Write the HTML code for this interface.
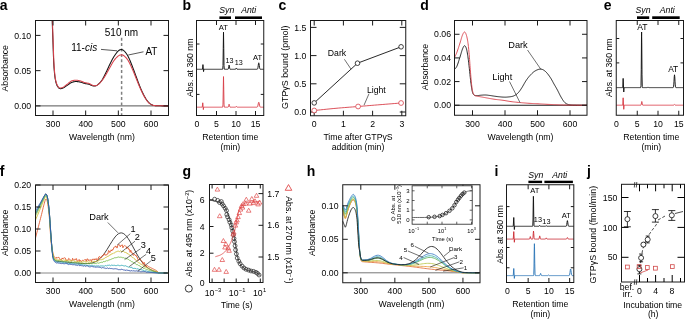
<!DOCTYPE html>
<html><head><meta charset="utf-8"><style>
html,body{margin:0;padding:0;background:#fff;}
svg{display:block;filter:blur(0.3px);}
text{font-family:"Liberation Sans",sans-serif;}
</style></head><body>
<svg width="685" height="320" viewBox="0 0 685 320">
<rect width="685" height="320" fill="#fff"/>
<text x="-0.30" y="10.20" font-size="14" text-anchor="start" font-weight="bold">a</text>
<line x1="35.50" y1="105.90" x2="168.50" y2="105.90" stroke="#555" stroke-width="1"/>
<line x1="121.61" y1="37.70" x2="121.61" y2="115.50" stroke="#808080" stroke-width="1.5" stroke-dasharray="3,2.4"/>
<polyline points="52.20,20.50 52.25,21.99 52.32,23.95 52.41,26.27 52.50,28.88 52.60,31.65 52.70,34.49 52.80,37.31 52.90,40.00 52.99,42.69 53.09,45.51 53.18,48.42 53.27,51.34 53.37,54.23 53.48,57.00 53.58,59.62 53.70,62.00 53.82,64.18 53.94,66.21 54.07,68.12 54.21,69.91 54.35,71.58 54.49,73.14 54.64,74.62 54.80,76.00 54.97,77.28 55.14,78.43 55.32,79.46 55.51,80.41 55.71,81.27 55.90,82.06 56.10,82.80 56.30,83.50 56.50,84.14 56.70,84.70 56.91,85.19 57.12,85.62 57.33,86.00 57.55,86.35 57.77,86.68 58.00,87.00 58.23,87.31 58.46,87.59 58.68,87.84 58.92,88.06 59.16,88.24 59.42,88.40 59.70,88.52 60.00,88.60 60.32,88.64 60.66,88.65 61.01,88.62 61.38,88.56 61.76,88.46 62.16,88.34 62.57,88.18 63.00,88.00 63.45,87.78 63.93,87.51 64.43,87.21 64.94,86.88 65.46,86.54 65.98,86.18 66.49,85.84 67.00,85.50 67.50,85.16 68.00,84.80 68.50,84.44 69.00,84.07 69.50,83.71 70.00,83.37 70.50,83.07 71.00,82.80 71.49,82.57 71.98,82.36 72.46,82.17 72.94,82.01 73.43,81.87 73.93,81.75 74.45,81.66 75.00,81.60 75.58,81.57 76.18,81.56 76.80,81.58 77.44,81.63 78.08,81.70 78.73,81.79 79.37,81.89 80.00,82.00 80.63,82.14 81.27,82.31 81.92,82.51 82.56,82.72 83.20,82.94 83.82,83.15 84.42,83.34 85.00,83.50 85.55,83.63 86.09,83.74 86.62,83.83 87.12,83.91 87.62,83.99 88.09,84.08 88.55,84.18 89.00,84.30 89.42,84.44 89.82,84.61 90.20,84.79 90.56,84.97 90.92,85.16 91.27,85.33 91.63,85.48 92.00,85.60 92.38,85.71 92.75,85.81 93.12,85.90 93.50,85.97 93.88,86.03 94.25,86.05 94.62,86.05 95.00,86.00 95.37,85.92 95.73,85.83 96.08,85.71 96.44,85.56 96.80,85.37 97.18,85.13 97.58,84.84 98.00,84.50 98.45,84.10 98.93,83.66 99.43,83.16 99.94,82.62 100.46,82.04 100.98,81.41 101.49,80.73 102.00,80.00 102.50,79.21 103.00,78.36 103.50,77.45 104.00,76.50 104.50,75.52 105.00,74.52 105.50,73.51 106.00,72.50 106.50,71.48 107.00,70.42 107.50,69.34 108.00,68.25 108.50,67.16 109.00,66.08 109.50,65.02 110.00,64.00 110.50,63.00 111.00,62.00 111.50,61.02 112.00,60.05 112.50,59.11 113.00,58.20 113.50,57.33 114.00,56.50 114.51,55.71 115.02,54.93 115.54,54.19 116.06,53.48 116.57,52.82 117.07,52.21 117.55,51.67 118.00,51.20 118.42,50.80 118.82,50.47 119.20,50.21 119.56,49.99 119.92,49.83 120.27,49.72 120.63,49.64 121.00,49.60 121.37,49.59 121.73,49.60 122.08,49.66 122.44,49.76 122.80,49.92 123.18,50.14 123.58,50.43 124.00,50.80 124.45,51.25 124.93,51.76 125.43,52.35 125.94,52.99 126.46,53.70 126.98,54.48 127.49,55.31 128.00,56.20 128.50,57.17 129.00,58.22 129.50,59.34 130.00,60.52 130.50,61.74 131.00,62.99 131.50,64.24 132.00,65.50 132.50,66.77 133.00,68.08 133.50,69.41 134.00,70.77 134.50,72.13 135.00,73.50 135.50,74.86 136.00,76.20 136.50,77.54 137.00,78.90 137.50,80.27 138.00,81.63 138.50,82.97 139.00,84.29 139.50,85.57 140.00,86.80 140.50,88.00 141.00,89.17 141.50,90.31 142.00,91.42 142.50,92.50 143.00,93.55 143.50,94.55 144.00,95.50 144.50,96.42 145.00,97.30 145.50,98.14 146.00,98.95 146.50,99.71 147.00,100.43 147.50,101.09 148.00,101.70 148.50,102.25 149.00,102.74 149.50,103.19 150.00,103.58 150.50,103.93 151.00,104.25 151.50,104.54 152.00,104.80 152.45,105.02 152.81,105.20 153.15,105.33 153.50,105.43 153.91,105.51 154.44,105.58 155.12,105.64 156.00,105.70 157.20,105.76 158.72,105.80 160.44,105.84 162.25,105.86 164.03,105.87 165.66,105.88 167.02,105.89 168.00,105.90" fill="none" stroke="#111" stroke-width="1.05" stroke-linejoin="round"/>
<polyline points="52.40,20.50 52.45,21.99 52.52,23.95 52.61,26.27 52.70,28.88 52.80,31.65 52.90,34.49 53.00,37.31 53.10,40.00 53.19,42.69 53.29,45.51 53.38,48.42 53.48,51.34 53.57,54.23 53.68,57.00 53.78,59.62 53.90,62.00 54.02,64.18 54.14,66.22 54.27,68.13 54.41,69.92 54.55,71.60 54.69,73.17 54.84,74.63 55.00,76.00 55.17,77.25 55.34,78.37 55.52,79.37 55.71,80.26 55.91,81.08 56.10,81.83 56.30,82.53 56.50,83.20 56.70,83.82 56.91,84.36 57.12,84.84 57.33,85.26 57.55,85.64 57.76,85.98 57.98,86.30 58.20,86.60 58.41,86.89 58.61,87.14 58.81,87.37 59.02,87.56 59.23,87.72 59.46,87.85 59.72,87.94 60.00,88.00 60.31,88.02 60.64,88.00 60.99,87.95 61.36,87.86 61.75,87.74 62.15,87.59 62.57,87.41 63.00,87.20 63.45,86.95 63.93,86.65 64.43,86.31 64.94,85.94 65.46,85.56 65.98,85.17 66.49,84.78 67.00,84.40 67.50,84.01 68.00,83.60 68.50,83.17 69.00,82.74 69.50,82.33 70.00,81.94 70.50,81.59 71.00,81.30 71.49,81.06 71.98,80.84 72.46,80.67 72.94,80.52 73.43,80.40 73.93,80.31 74.45,80.24 75.00,80.20 75.58,80.19 76.18,80.20 76.80,80.25 77.44,80.32 78.08,80.41 78.73,80.53 79.37,80.66 80.00,80.80 80.63,80.97 81.27,81.19 81.92,81.43 82.56,81.68 83.20,81.94 83.82,82.19 84.42,82.41 85.00,82.60 85.55,82.75 86.09,82.87 86.62,82.98 87.12,83.07 87.62,83.16 88.09,83.25 88.55,83.36 89.00,83.50 89.42,83.66 89.82,83.85 90.20,84.05 90.56,84.26 90.92,84.47 91.27,84.67 91.63,84.85 92.00,85.00 92.38,85.14 92.75,85.27 93.12,85.40 93.50,85.51 93.88,85.60 94.25,85.67 94.62,85.70 95.00,85.70 95.37,85.67 95.73,85.62 96.08,85.55 96.44,85.45 96.80,85.31 97.18,85.13 97.58,84.89 98.00,84.60 98.45,84.24 98.93,83.83 99.43,83.37 99.94,82.86 100.46,82.31 100.98,81.73 101.49,81.12 102.00,80.50 102.50,79.85 103.00,79.16 103.50,78.44 104.00,77.69 104.50,76.92 105.00,76.13 105.50,75.32 106.00,74.50 106.50,73.65 107.00,72.77 107.50,71.87 108.00,70.95 108.50,70.02 109.00,69.10 109.50,68.19 110.00,67.30 110.50,66.41 111.00,65.51 111.50,64.61 112.00,63.72 112.50,62.85 113.00,62.01 113.50,61.23 114.00,60.50 114.51,59.82 115.02,59.18 115.54,58.57 116.06,58.01 116.57,57.48 117.07,57.01 117.55,56.58 118.00,56.20 118.42,55.88 118.82,55.61 119.20,55.40 119.56,55.23 119.92,55.09 120.27,55.00 120.63,54.94 121.00,54.90 121.37,54.88 121.73,54.89 122.08,54.92 122.44,54.99 122.80,55.10 123.18,55.27 123.58,55.50 124.00,55.80 124.45,56.17 124.93,56.59 125.43,57.07 125.94,57.61 126.46,58.20 126.98,58.84 127.49,59.55 128.00,60.30 128.50,61.12 129.00,62.01 129.50,62.97 130.00,63.97 130.50,65.02 131.00,66.10 131.50,67.19 132.00,68.30 132.50,69.43 133.00,70.60 133.50,71.81 134.00,73.04 134.50,74.28 135.00,75.53 135.50,76.77 136.00,78.00 136.50,79.23 137.00,80.48 137.50,81.74 138.00,82.99 138.50,84.24 139.00,85.46 139.50,86.65 140.00,87.80 140.50,88.92 141.00,90.01 141.50,91.09 142.00,92.14 142.50,93.16 143.00,94.14 143.50,95.09 144.00,96.00 144.50,96.88 145.00,97.73 145.50,98.55 146.00,99.33 146.50,100.07 147.00,100.77 147.50,101.41 148.00,102.00 148.50,102.53 149.00,102.99 149.50,103.41 150.00,103.77 150.50,104.10 151.00,104.40 151.50,104.66 152.00,104.90 152.45,105.10 152.81,105.26 153.15,105.38 153.50,105.47 153.91,105.54 154.44,105.59 155.12,105.64 156.00,105.70 157.20,105.76 158.72,105.80 160.44,105.83 162.25,105.85 164.03,105.87 165.66,105.88 167.02,105.89 168.00,105.90" fill="none" stroke="#d8404a" stroke-width="1.05" stroke-linejoin="round"/>
<rect x="35.50" y="20.50" width="133.00" height="95.00" stroke="#1a1a1a" stroke-width="1" fill="none"/>
<line x1="53.00" y1="115.50" x2="53.00" y2="110.50" stroke="#1a1a1a" stroke-width="1"/>
<line x1="53.00" y1="20.50" x2="53.00" y2="25.50" stroke="#1a1a1a" stroke-width="1"/>
<line x1="85.67" y1="115.50" x2="85.67" y2="110.50" stroke="#1a1a1a" stroke-width="1"/>
<line x1="85.67" y1="20.50" x2="85.67" y2="25.50" stroke="#1a1a1a" stroke-width="1"/>
<line x1="118.34" y1="115.50" x2="118.34" y2="110.50" stroke="#1a1a1a" stroke-width="1"/>
<line x1="118.34" y1="20.50" x2="118.34" y2="25.50" stroke="#1a1a1a" stroke-width="1"/>
<line x1="151.01" y1="115.50" x2="151.01" y2="110.50" stroke="#1a1a1a" stroke-width="1"/>
<line x1="151.01" y1="20.50" x2="151.01" y2="25.50" stroke="#1a1a1a" stroke-width="1"/>
<line x1="35.50" y1="105.90" x2="40.50" y2="105.90" stroke="#1a1a1a" stroke-width="1"/>
<line x1="168.50" y1="105.90" x2="163.50" y2="105.90" stroke="#1a1a1a" stroke-width="1"/>
<line x1="35.50" y1="70.65" x2="40.50" y2="70.65" stroke="#1a1a1a" stroke-width="1"/>
<line x1="168.50" y1="70.65" x2="163.50" y2="70.65" stroke="#1a1a1a" stroke-width="1"/>
<line x1="35.50" y1="35.40" x2="40.50" y2="35.40" stroke="#1a1a1a" stroke-width="1"/>
<line x1="168.50" y1="35.40" x2="163.50" y2="35.40" stroke="#1a1a1a" stroke-width="1"/>
<text x="53.00" y="126.50" font-size="8.7" text-anchor="middle">300</text>
<text x="85.67" y="126.50" font-size="8.7" text-anchor="middle">400</text>
<text x="118.34" y="126.50" font-size="8.7" text-anchor="middle">500</text>
<text x="151.01" y="126.50" font-size="8.7" text-anchor="middle">600</text>
<text x="31.20" y="109.00" font-size="8.7" text-anchor="end">0.00</text>
<text x="31.20" y="73.75" font-size="8.7" text-anchor="end">0.05</text>
<text x="31.20" y="38.50" font-size="8.7" text-anchor="end">0.10</text>
<text x="102.00" y="140.00" font-size="8.7" text-anchor="middle">Wavelength (nm)</text>
<text x="7.80" y="68.30" font-size="8.7" text-anchor="middle" transform="rotate(-90 7.80 68.30)">Absorbance</text>
<text x="121.50" y="36.00" font-size="10" text-anchor="middle">510 nm</text>
<text x="84.20" y="50.90" font-size="10" text-anchor="middle">11-<tspan font-style="italic">cis</tspan></text>
<text x="151.40" y="54.50" font-size="10" text-anchor="middle">AT</text>
<line x1="101.00" y1="49.40" x2="117.00" y2="50.80" stroke="#111" stroke-width="0.7"/>
<line x1="143.50" y1="51.80" x2="128.30" y2="55.00" stroke="#111" stroke-width="0.7"/>
<text x="182.60" y="10.20" font-size="14" text-anchor="start" font-weight="bold">b</text>
<rect x="219.40" y="16.40" width="11.60" height="2.60" fill="#000"/>
<rect x="235.00" y="16.40" width="27.00" height="2.60" fill="#000"/>
<text x="226.80" y="12.50" font-size="8.7" text-anchor="middle" font-style="italic">Syn</text>
<text x="248.70" y="12.50" font-size="8.7" text-anchor="middle" font-style="italic">Anti</text>
<polyline points="196.50,69.30 196.75,69.30 197.00,69.30 197.25,69.30 197.50,69.30 197.75,69.30 198.00,69.30 198.25,69.30 198.50,69.30 198.75,69.30 199.00,69.30 199.25,69.30 199.50,69.30 199.75,69.30 200.00,69.30 200.25,69.30 200.50,69.30 200.75,69.30 201.00,69.30 201.25,69.30 201.50,69.30 201.75,69.30 202.00,69.30 202.25,69.30 202.50,69.30 202.95,64.60 203.55,71.60 203.90,69.30 204.00,69.30 204.25,69.30 204.50,69.30 204.75,69.30 205.00,69.30 205.25,69.30 205.50,69.30 205.75,69.30 206.00,69.30 206.25,69.30 206.50,69.30 206.75,69.30 207.00,69.30 207.25,69.30 207.50,69.30 207.75,69.30 208.00,69.30 208.25,69.30 208.50,69.30 208.75,69.30 209.00,69.30 209.25,69.30 209.50,69.30 209.75,69.30 210.00,69.30 210.25,69.30 210.50,69.30 210.75,69.30 211.00,69.30 211.25,69.30 211.50,69.30 211.75,69.30 212.00,69.30 212.25,69.30 212.50,69.30 212.75,69.30 213.00,69.30 213.25,69.30 213.50,69.30 213.75,69.30 214.00,69.30 214.25,69.30 214.50,69.30 214.75,69.30 215.00,69.30 215.25,69.30 215.50,69.30 215.75,69.30 216.00,69.30 216.25,69.30 216.50,69.30 216.75,69.30 217.00,69.30 217.25,69.30 217.50,69.30 217.75,69.30 218.00,69.30 218.25,69.30 218.50,69.30 218.75,69.30 219.00,69.30 219.25,69.30 219.50,69.30 219.75,69.30 220.00,69.30 220.25,69.30 220.50,69.30 220.75,69.30 221.00,69.30 221.25,69.30 221.50,69.30 221.75,69.30 222.00,69.30 222.25,69.30 222.50,69.30 222.75,69.09 223.00,65.56 223.25,48.40 223.50,32.20 223.75,48.40 224.00,65.56 224.25,69.09 224.50,69.30 224.75,69.30 225.00,69.30 225.25,69.30 225.50,69.30 225.75,69.30 226.00,69.30 226.25,69.30 226.50,69.30 226.75,69.30 227.00,69.30 227.25,69.30 227.50,69.30 227.75,69.30 228.00,69.27 228.25,69.06 228.50,68.28 228.75,66.67 229.00,65.17 229.10,65.00 229.25,65.37 229.50,67.03 229.75,68.51 230.00,69.13 230.25,69.28 230.50,69.30 230.75,69.30 231.00,69.30 231.25,69.30 231.50,69.30 231.75,69.30 232.00,69.30 232.25,69.30 232.50,69.30 232.75,69.30 233.00,69.30 233.25,69.30 233.50,69.30 233.75,69.30 234.00,69.30 234.25,69.30 234.50,69.30 234.75,69.30 235.00,69.30 235.25,69.29 235.50,69.24 235.75,69.01 236.00,68.47 236.25,68.02 236.30,68.00 236.50,68.23 236.75,68.82 237.00,69.18 237.25,69.28 237.50,69.30 237.75,69.30 238.00,69.30 238.25,69.30 238.50,69.30 238.75,69.30 239.00,69.30 239.25,69.30 239.50,69.30 239.75,69.30 240.00,69.30 240.25,69.30 240.50,69.30 240.75,69.30 241.00,69.30 241.25,69.30 241.50,69.30 241.75,69.30 242.00,69.30 242.25,69.30 242.50,69.30 242.75,69.30 243.00,69.30 243.25,69.30 243.50,69.30 243.75,69.30 244.00,69.30 244.25,69.30 244.50,69.30 244.75,69.30 245.00,69.30 245.25,69.30 245.50,69.30 245.75,69.30 246.00,69.30 246.25,69.30 246.50,69.30 246.75,69.30 247.00,69.30 247.25,69.30 247.50,69.30 247.75,69.30 248.00,69.30 248.25,69.30 248.50,69.30 248.75,69.30 249.00,69.30 249.25,69.30 249.50,69.30 249.75,69.30 250.00,69.30 250.25,69.30 250.50,69.30 250.75,69.30 251.00,69.30 251.25,69.30 251.50,69.30 251.75,69.30 252.00,69.30 252.25,69.30 252.50,69.30 252.75,69.30 253.00,69.30 253.25,69.30 253.50,69.30 253.75,69.30 254.00,69.30 254.25,69.30 254.50,69.30 254.75,69.30 255.00,69.30 255.25,69.30 255.50,69.30 255.75,69.30 256.00,69.30 256.25,69.30 256.50,69.30 256.75,69.30 257.00,69.29 257.25,69.23 257.50,69.03 257.75,68.46 258.00,67.24 258.25,65.40 258.50,63.58 258.75,62.80 259.00,63.58 259.25,65.40 259.50,67.24 259.75,68.46 260.00,69.03 260.25,69.23 260.50,69.29 260.75,69.30 261.00,69.30 261.25,69.30 261.50,69.30 261.75,69.30 262.00,69.30 262.25,69.30 262.50,69.30 262.75,69.30 263.00,69.30 263.25,69.30 263.50,69.30 263.75,69.30" fill="none" stroke="#111" stroke-width="0.95" stroke-linejoin="round"/>
<polyline points="196.50,107.20 196.75,107.20 197.00,107.20 197.25,107.20 197.50,107.20 197.75,107.20 198.00,107.20 198.25,107.20 198.50,107.20 198.75,107.20 199.00,107.20 199.25,107.20 199.50,107.20 199.75,107.20 200.00,107.20 200.25,107.20 200.50,107.20 200.75,107.20 201.00,107.20 201.25,107.20 201.50,107.20 201.75,107.20 202.00,107.20 202.25,107.20 202.75,102.80 203.35,109.60 203.70,107.20 203.75,107.20 204.00,107.20 204.25,107.20 204.50,107.20 204.75,107.20 205.00,107.20 205.25,107.20 205.50,107.20 205.75,107.20 206.00,107.20 206.25,107.20 206.50,107.20 206.75,107.20 207.00,107.20 207.25,107.20 207.50,107.20 207.75,107.20 208.00,107.20 208.25,107.20 208.50,107.20 208.75,107.20 209.00,107.20 209.25,107.20 209.50,107.20 209.75,107.20 210.00,107.20 210.25,107.20 210.50,107.20 210.75,107.20 211.00,107.20 211.25,107.20 211.50,107.20 211.75,107.20 212.00,107.20 212.25,107.20 212.50,107.20 212.75,107.20 213.00,107.20 213.25,107.20 213.50,107.20 213.75,107.20 214.00,107.20 214.25,107.20 214.50,107.20 214.75,107.20 215.00,107.20 215.25,107.20 215.50,107.20 215.75,107.20 216.00,107.20 216.25,107.20 216.50,107.20 216.75,107.20 217.00,107.20 217.25,107.20 217.50,107.20 217.75,107.20 218.00,107.20 218.25,107.20 218.50,107.20 218.75,107.20 219.00,107.20 219.25,107.20 219.50,107.20 219.75,107.20 220.00,107.20 220.25,107.20 220.50,107.20 220.75,107.20 221.00,107.20 221.25,107.20 221.50,107.20 221.75,107.20 222.00,107.20 222.25,107.20 222.50,107.20 222.75,107.03 223.00,104.12 223.25,89.96 223.50,76.60 223.75,89.96 224.00,104.12 224.25,107.03 224.50,107.20 224.75,107.20 225.00,107.20 225.25,107.20 225.50,107.20 225.75,107.20 226.00,107.20 226.25,107.20 226.50,107.20 226.75,107.20 227.00,107.20 227.25,107.20 227.50,107.20 227.75,107.20 228.00,107.18 228.25,107.03 228.50,106.49 228.75,105.36 229.00,104.32 229.10,104.20 229.25,104.46 229.50,105.62 229.75,106.65 230.00,107.08 230.25,107.18 230.50,107.20 230.75,107.20 231.00,107.20 231.25,107.20 231.50,107.20 231.75,107.20 232.00,107.20 232.25,107.20 232.50,107.20 232.75,107.20 233.00,107.20 233.25,107.20 233.50,107.20 233.75,107.20 234.00,107.20 234.25,107.20 234.50,107.20 234.75,107.20 235.00,107.20 235.25,107.20 235.50,107.17 235.75,107.02 236.00,106.69 236.25,106.41 236.30,106.40 236.50,106.54 236.75,106.91 237.00,107.13 237.25,107.19 237.50,107.20 237.75,107.20 238.00,107.20 238.25,107.20 238.50,107.20 238.75,107.20 239.00,107.20 239.25,107.20 239.50,107.20 239.75,107.20 240.00,107.20 240.25,107.20 240.50,107.20 240.75,107.20 241.00,107.20 241.25,107.20 241.50,107.20 241.75,107.20 242.00,107.20 242.25,107.20 242.50,107.20 242.75,107.20 243.00,107.20 243.25,107.20 243.50,107.20 243.75,107.20 244.00,107.20 244.25,107.20 244.50,107.20 244.75,107.20 245.00,107.20 245.25,107.20 245.50,107.20 245.75,107.20 246.00,107.20 246.25,107.20 246.50,107.20 246.75,107.20 247.00,107.20 247.25,107.20 247.50,107.20 247.75,107.20 248.00,107.20 248.25,107.20 248.50,107.20 248.75,107.20 249.00,107.20 249.25,107.20 249.50,107.20 249.75,107.20 250.00,107.20 250.25,107.20 250.50,107.20 250.75,107.20 251.00,107.20 251.25,107.20 251.50,107.20 251.75,107.20 252.00,107.20 252.25,107.20 252.50,107.20 252.75,107.20 253.00,107.20 253.25,107.20 253.50,107.20 253.75,107.20 254.00,107.20 254.25,107.20 254.50,107.20 254.75,107.20 255.00,107.20 255.25,107.20 255.50,107.20 255.75,107.20 256.00,107.20 256.25,107.20 256.50,107.20 256.75,107.19 257.00,107.16 257.25,107.05 257.50,106.76 257.75,106.15 258.00,105.12 258.25,103.82 258.50,102.67 258.75,102.20 259.00,102.67 259.25,103.82 259.50,105.12 259.75,106.15 260.00,106.76 260.25,107.05 260.50,107.16 260.75,107.19 261.00,107.20 261.25,107.20 261.50,107.20 261.75,107.20 262.00,107.20 262.25,107.20 262.50,107.20 262.75,107.20 263.00,107.20 263.25,107.20 263.50,107.20 263.75,107.20" fill="none" stroke="#d8404a" stroke-width="0.95" stroke-linejoin="round"/>
<rect x="196.50" y="20.50" width="67.25" height="95.00" stroke="#1a1a1a" stroke-width="1" fill="none"/>
<line x1="216.50" y1="115.50" x2="216.50" y2="111.00" stroke="#1a1a1a" stroke-width="1"/>
<line x1="216.50" y1="20.50" x2="216.50" y2="25.00" stroke="#1a1a1a" stroke-width="1"/>
<line x1="236.00" y1="115.50" x2="236.00" y2="111.00" stroke="#1a1a1a" stroke-width="1"/>
<line x1="236.00" y1="20.50" x2="236.00" y2="25.00" stroke="#1a1a1a" stroke-width="1"/>
<line x1="255.50" y1="115.50" x2="255.50" y2="111.00" stroke="#1a1a1a" stroke-width="1"/>
<line x1="255.50" y1="20.50" x2="255.50" y2="25.00" stroke="#1a1a1a" stroke-width="1"/>
<line x1="196.50" y1="44.00" x2="199.50" y2="44.00" stroke="#1a1a1a" stroke-width="1"/>
<line x1="263.75" y1="44.00" x2="260.75" y2="44.00" stroke="#1a1a1a" stroke-width="1"/>
<line x1="196.50" y1="94.40" x2="199.50" y2="94.40" stroke="#1a1a1a" stroke-width="1"/>
<line x1="263.75" y1="94.40" x2="260.75" y2="94.40" stroke="#1a1a1a" stroke-width="1"/>
<text x="223.30" y="29.80" font-size="7.6" text-anchor="middle">AT</text>
<text x="229.40" y="63.40" font-size="7.2" text-anchor="middle">13</text>
<text x="238.80" y="64.90" font-size="7.2" text-anchor="middle">13</text>
<text x="257.60" y="60.00" font-size="7.6" text-anchor="middle">AT</text>
<text x="197.00" y="126.50" font-size="8.7" text-anchor="middle">0</text>
<text x="216.50" y="126.50" font-size="8.7" text-anchor="middle">5</text>
<text x="236.00" y="126.50" font-size="8.7" text-anchor="middle">10</text>
<text x="255.50" y="126.50" font-size="8.7" text-anchor="middle">15</text>
<text x="230.30" y="140.00" font-size="8.7" text-anchor="middle">Retention time</text>
<text x="230.30" y="149.50" font-size="8.7" text-anchor="middle">(min)</text>
<text x="192.70" y="67.80" font-size="8.7" text-anchor="middle" transform="rotate(-90 192.70 67.80)">Abs. at 360 nm</text>
<text x="278.60" y="10.20" font-size="14" text-anchor="start" font-weight="bold">c</text>
<rect x="310.50" y="20.50" width="95.25" height="95.25" stroke="#1a1a1a" stroke-width="1" fill="none"/>
<line x1="314.20" y1="115.75" x2="314.20" y2="110.75" stroke="#1a1a1a" stroke-width="1"/>
<line x1="314.20" y1="20.50" x2="314.20" y2="25.50" stroke="#1a1a1a" stroke-width="1"/>
<line x1="343.40" y1="115.75" x2="343.40" y2="110.75" stroke="#1a1a1a" stroke-width="1"/>
<line x1="343.40" y1="20.50" x2="343.40" y2="25.50" stroke="#1a1a1a" stroke-width="1"/>
<line x1="372.60" y1="115.75" x2="372.60" y2="110.75" stroke="#1a1a1a" stroke-width="1"/>
<line x1="372.60" y1="20.50" x2="372.60" y2="25.50" stroke="#1a1a1a" stroke-width="1"/>
<line x1="401.80" y1="115.75" x2="401.80" y2="110.75" stroke="#1a1a1a" stroke-width="1"/>
<line x1="401.80" y1="20.50" x2="401.80" y2="25.50" stroke="#1a1a1a" stroke-width="1"/>
<line x1="310.50" y1="112.00" x2="316.50" y2="112.00" stroke="#1a1a1a" stroke-width="1"/>
<line x1="405.75" y1="112.00" x2="399.75" y2="112.00" stroke="#1a1a1a" stroke-width="1"/>
<line x1="310.50" y1="83.80" x2="316.50" y2="83.80" stroke="#1a1a1a" stroke-width="1"/>
<line x1="405.75" y1="83.80" x2="399.75" y2="83.80" stroke="#1a1a1a" stroke-width="1"/>
<line x1="310.50" y1="55.60" x2="316.50" y2="55.60" stroke="#1a1a1a" stroke-width="1"/>
<line x1="405.75" y1="55.60" x2="399.75" y2="55.60" stroke="#1a1a1a" stroke-width="1"/>
<line x1="310.50" y1="27.40" x2="316.50" y2="27.40" stroke="#1a1a1a" stroke-width="1"/>
<line x1="405.75" y1="27.40" x2="399.75" y2="27.40" stroke="#1a1a1a" stroke-width="1"/>
<polyline points="314.20,102.90 357.50,63.20 401.10,46.80" fill="none" stroke="#111" stroke-width="0.9" stroke-linejoin="round"/>
<polyline points="314.20,110.50 315.88,110.33 318.11,110.10 320.77,109.82 323.72,109.51 326.85,109.19 330.02,108.87 333.11,108.57 336.00,108.30 338.75,108.06 341.51,107.82 344.27,107.60 347.04,107.37 349.81,107.16 352.58,106.94 355.35,106.72 358.10,106.50 360.85,106.27 363.61,106.05 366.36,105.82 369.11,105.59 371.85,105.37 374.59,105.14 377.30,104.92 380.00,104.70 382.82,104.47 385.83,104.23 388.90,103.98 391.92,103.74 394.77,103.51 397.33,103.30 399.48,103.13 401.10,103.00" fill="none" stroke="#d8404a" stroke-width="0.9" stroke-linejoin="round"/>
<circle cx="314.20" cy="102.90" r="2.3" stroke="#111" stroke-width="0.8" fill="#fff"/>
<circle cx="357.50" cy="63.20" r="2.3" stroke="#111" stroke-width="0.8" fill="#fff"/>
<circle cx="401.10" cy="46.80" r="2.3" stroke="#111" stroke-width="0.8" fill="#fff"/>
<circle cx="314.20" cy="110.50" r="2.4" stroke="#d8404a" stroke-width="0.8" fill="#fff"/>
<circle cx="358.10" cy="106.50" r="2.4" stroke="#d8404a" stroke-width="0.8" fill="#fff"/>
<circle cx="401.10" cy="103.00" r="2.4" stroke="#d8404a" stroke-width="0.8" fill="#fff"/>
<text x="337.00" y="56.00" font-size="8.7" text-anchor="middle">Dark</text>
<line x1="344.40" y1="59.30" x2="351.00" y2="69.10" stroke="#111" stroke-width="0.6"/>
<text x="376.30" y="92.50" font-size="8.7" text-anchor="middle">Light</text>
<line x1="369.00" y1="93.70" x2="364.00" y2="105.20" stroke="#111" stroke-width="0.6"/>
<text x="314.20" y="126.50" font-size="8.7" text-anchor="middle">0</text>
<text x="343.40" y="126.50" font-size="8.7" text-anchor="middle">1</text>
<text x="372.60" y="126.50" font-size="8.7" text-anchor="middle">2</text>
<text x="401.80" y="126.50" font-size="8.7" text-anchor="middle">3</text>
<text x="306.30" y="115.10" font-size="8.7" text-anchor="end">0.0</text>
<text x="306.30" y="86.90" font-size="8.7" text-anchor="end">0.5</text>
<text x="306.30" y="58.70" font-size="8.7" text-anchor="end">1.0</text>
<text x="306.30" y="30.50" font-size="8.7" text-anchor="end">1.5</text>
<text x="358.00" y="139.80" font-size="8.7" text-anchor="middle">Time after GTP<tspan>γ</tspan>S</text>
<text x="358.00" y="150.00" font-size="8.7" text-anchor="middle">addition (min)</text>
<text x="287.60" y="67.20" font-size="8.9" text-anchor="middle" transform="rotate(-90 287.60 67.20)">GTP<tspan>γ</tspan>S bound (pmol)</text>
<text x="420.20" y="10.20" font-size="14" text-anchor="start" font-weight="bold">d</text>
<line x1="454.50" y1="105.25" x2="587.00" y2="105.25" stroke="#222" stroke-width="1"/>
<polyline points="454.50,69.50 454.69,69.27 454.94,69.00 455.23,68.69 455.56,68.31 455.92,67.87 456.28,67.34 456.65,66.72 457.00,66.00 457.35,65.13 457.73,64.11 458.11,62.98 458.50,61.78 458.89,60.54 459.27,59.31 459.65,58.11 460.00,57.00 460.34,55.92 460.67,54.82 460.99,53.72 461.31,52.64 461.61,51.61 461.91,50.65 462.21,49.77 462.50,49.00 462.78,48.32 463.06,47.69 463.33,47.13 463.59,46.64 463.84,46.25 464.10,45.95 464.35,45.76 464.60,45.70 464.85,45.76 465.10,45.93 465.34,46.20 465.58,46.58 465.82,47.05 466.05,47.62 466.28,48.27 466.50,49.00 466.72,49.83 466.93,50.78 467.13,51.83 467.33,52.96 467.53,54.15 467.72,55.41 467.91,56.69 468.10,58.00 468.29,59.36 468.47,60.79 468.64,62.28 468.82,63.81 468.99,65.37 469.16,66.93 469.33,68.48 469.50,70.00 469.67,71.52 469.83,73.06 469.99,74.61 470.14,76.16 470.30,77.68 470.46,79.18 470.63,80.62 470.80,82.00 470.98,83.35 471.16,84.69 471.34,86.01 471.52,87.28 471.71,88.49 471.91,89.61 472.10,90.62 472.30,91.50 472.49,92.24 472.68,92.86 472.87,93.38 473.06,93.81 473.26,94.16 473.48,94.47 473.72,94.74 474.00,95.00 474.31,95.22 474.64,95.38 474.99,95.48 475.36,95.54 475.74,95.58 476.15,95.59 476.57,95.59 477.00,95.60 477.45,95.60 477.92,95.57 478.40,95.51 478.91,95.45 479.42,95.38 479.94,95.31 480.47,95.25 481.00,95.20 481.54,95.16 482.09,95.12 482.65,95.08 483.22,95.04 483.79,95.01 484.36,95.00 484.93,94.99 485.50,95.00 486.05,95.03 486.59,95.07 487.12,95.12 487.66,95.18 488.20,95.25 488.77,95.33 489.37,95.41 490.00,95.50 490.67,95.59 491.37,95.70 492.10,95.82 492.84,95.94 493.61,96.06 494.39,96.18 495.19,96.29 496.00,96.40 496.84,96.50 497.73,96.61 498.64,96.71 499.56,96.81 500.48,96.90 501.37,96.99 502.21,97.05 503.00,97.10 503.72,97.13 504.38,97.15 505.00,97.16 505.59,97.16 506.18,97.14 506.76,97.11 507.36,97.06 508.00,97.00 508.67,96.93 509.36,96.86 510.07,96.78 510.78,96.68 511.49,96.56 512.18,96.41 512.86,96.23 513.50,96.00 514.11,95.74 514.71,95.45 515.28,95.13 515.84,94.78 516.39,94.40 516.93,93.97 517.47,93.51 518.00,93.00 518.53,92.44 519.04,91.82 519.55,91.16 520.04,90.47 520.54,89.75 521.03,89.00 521.51,88.25 522.00,87.50 522.48,86.73 522.95,85.92 523.42,85.09 523.89,84.25 524.35,83.41 524.83,82.58 525.31,81.77 525.80,81.00 526.30,80.26 526.80,79.53 527.31,78.82 527.82,78.12 528.35,77.45 528.88,76.78 529.43,76.13 530.00,75.50 530.58,74.87 531.18,74.24 531.79,73.62 532.41,73.02 533.04,72.45 533.68,71.92 534.34,71.43 535.00,71.00 535.69,70.61 536.40,70.24 537.13,69.91 537.86,69.62 538.60,69.38 539.32,69.21 540.03,69.11 540.70,69.10 541.34,69.17 541.96,69.31 542.57,69.53 543.16,69.81 543.74,70.15 544.32,70.55 544.91,71.00 545.50,71.50 546.11,72.07 546.73,72.74 547.35,73.46 547.97,74.24 548.58,75.06 549.18,75.88 549.75,76.70 550.30,77.50 550.82,78.29 551.31,79.11 551.79,79.93 552.24,80.76 552.69,81.59 553.13,82.41 553.56,83.22 554.00,84.00 554.43,84.75 554.84,85.47 555.25,86.16 555.65,86.86 556.05,87.55 556.46,88.27 556.87,89.01 557.30,89.80 557.75,90.65 558.21,91.55 558.68,92.49 559.15,93.45 559.62,94.40 560.09,95.32 560.55,96.20 561.00,97.00 561.44,97.75 561.87,98.48 562.29,99.17 562.71,99.83 563.12,100.44 563.53,101.01 563.92,101.53 564.30,102.00 564.66,102.40 565.01,102.74 565.34,103.02 565.67,103.26 565.99,103.46 566.32,103.65 566.65,103.82 567.00,104.00 567.35,104.17 567.68,104.32 568.02,104.44 568.36,104.56 568.72,104.65 569.10,104.74 569.53,104.82 570.00,104.90 570.48,104.97 570.95,105.02 571.42,105.07 571.94,105.10 572.52,105.13 573.21,105.16 574.03,105.18 575.00,105.20 576.25,105.22 577.79,105.23 579.51,105.24 581.31,105.24 583.07,105.25 584.68,105.25 586.03,105.25 587.00,105.25" fill="none" stroke="#111" stroke-width="0.9" stroke-linejoin="round"/>
<polyline points="454.50,57.80 454.69,57.37 454.94,56.83 455.23,56.19 455.56,55.46 455.92,54.66 456.28,53.81 456.65,52.92 457.00,52.00 457.35,51.02 457.73,49.95 458.11,48.82 458.50,47.64 458.89,46.44 459.27,45.25 459.65,44.10 460.00,43.00 460.34,41.92 460.67,40.81 460.99,39.71 461.31,38.62 461.61,37.59 461.91,36.62 462.21,35.75 462.50,35.00 462.78,34.34 463.06,33.75 463.33,33.22 463.59,32.78 463.84,32.43 464.10,32.18 464.35,32.03 464.60,32.00 464.85,32.09 465.10,32.31 465.34,32.63 465.58,33.04 465.82,33.55 466.05,34.14 466.28,34.79 466.50,35.50 466.72,36.28 466.93,37.15 467.14,38.09 467.34,39.11 467.54,40.19 467.74,41.34 467.92,42.54 468.10,43.80 468.27,45.12 468.43,46.51 468.58,47.97 468.73,49.48 468.87,51.05 469.02,52.66 469.16,54.31 469.30,56.00 469.44,57.75 469.58,59.59 469.72,61.49 469.85,63.42 469.98,65.36 470.12,67.29 470.26,69.18 470.40,71.00 470.55,72.80 470.69,74.62 470.84,76.44 470.99,78.22 471.15,79.94 471.30,81.58 471.45,83.11 471.60,84.50 471.75,85.75 471.89,86.90 472.03,87.94 472.17,88.89 472.31,89.76 472.46,90.56 472.63,91.30 472.80,92.00 472.98,92.63 473.15,93.17 473.32,93.65 473.51,94.06 473.71,94.42 473.94,94.74 474.20,95.03 474.50,95.30 474.82,95.53 475.15,95.70 475.50,95.83 475.89,95.92 476.32,96.00 476.80,96.08 477.36,96.17 478.00,96.30 478.74,96.46 479.57,96.62 480.48,96.79 481.44,96.97 482.44,97.15 483.46,97.33 484.49,97.52 485.50,97.70 486.51,97.89 487.54,98.08 488.59,98.27 489.66,98.47 490.73,98.66 491.82,98.85 492.91,99.03 494.00,99.20 495.11,99.36 496.24,99.50 497.38,99.63 498.53,99.76 499.68,99.89 500.81,100.02 501.92,100.16 503.00,100.30 504.04,100.45 505.04,100.62 506.01,100.79 506.97,100.96 507.93,101.13 508.92,101.29 509.94,101.45 511.00,101.60 512.12,101.74 513.29,101.88 514.50,102.01 515.72,102.14 516.94,102.26 518.16,102.38 519.35,102.49 520.50,102.60 521.61,102.70 522.68,102.80 523.74,102.89 524.78,102.98 525.82,103.07 526.86,103.15 527.92,103.22 529.00,103.30 530.10,103.37 531.21,103.44 532.34,103.50 533.47,103.56 534.60,103.62 535.74,103.68 536.87,103.74 538.00,103.80 539.13,103.86 540.26,103.93 541.39,103.99 542.52,104.06 543.65,104.12 544.78,104.18 545.89,104.24 547.00,104.30 548.09,104.36 549.16,104.41 550.22,104.46 551.28,104.51 552.33,104.56 553.40,104.61 554.49,104.66 555.60,104.70 556.65,104.74 557.60,104.78 558.51,104.82 559.46,104.86 560.52,104.90 561.75,104.93 563.22,104.97 565.00,105.00 567.30,105.04 570.13,105.07 573.29,105.11 576.59,105.14 579.81,105.18 582.75,105.21 585.22,105.23 587.00,105.25" fill="none" stroke="#d8404a" stroke-width="0.9" stroke-linejoin="round"/>
<rect x="454.50" y="20.50" width="132.50" height="94.75" stroke="#1a1a1a" stroke-width="1" fill="none"/>
<line x1="472.50" y1="115.25" x2="472.50" y2="110.25" stroke="#1a1a1a" stroke-width="1"/>
<line x1="472.50" y1="20.50" x2="472.50" y2="25.50" stroke="#1a1a1a" stroke-width="1"/>
<line x1="505.00" y1="115.25" x2="505.00" y2="110.25" stroke="#1a1a1a" stroke-width="1"/>
<line x1="505.00" y1="20.50" x2="505.00" y2="25.50" stroke="#1a1a1a" stroke-width="1"/>
<line x1="537.50" y1="115.25" x2="537.50" y2="110.25" stroke="#1a1a1a" stroke-width="1"/>
<line x1="537.50" y1="20.50" x2="537.50" y2="25.50" stroke="#1a1a1a" stroke-width="1"/>
<line x1="570.00" y1="115.25" x2="570.00" y2="110.25" stroke="#1a1a1a" stroke-width="1"/>
<line x1="570.00" y1="20.50" x2="570.00" y2="25.50" stroke="#1a1a1a" stroke-width="1"/>
<line x1="454.50" y1="105.25" x2="459.50" y2="105.25" stroke="#1a1a1a" stroke-width="1"/>
<line x1="587.00" y1="105.25" x2="582.00" y2="105.25" stroke="#1a1a1a" stroke-width="1"/>
<line x1="454.50" y1="81.59" x2="459.50" y2="81.59" stroke="#1a1a1a" stroke-width="1"/>
<line x1="587.00" y1="81.59" x2="582.00" y2="81.59" stroke="#1a1a1a" stroke-width="1"/>
<line x1="454.50" y1="57.93" x2="459.50" y2="57.93" stroke="#1a1a1a" stroke-width="1"/>
<line x1="587.00" y1="57.93" x2="582.00" y2="57.93" stroke="#1a1a1a" stroke-width="1"/>
<line x1="454.50" y1="34.27" x2="459.50" y2="34.27" stroke="#1a1a1a" stroke-width="1"/>
<line x1="587.00" y1="34.27" x2="582.00" y2="34.27" stroke="#1a1a1a" stroke-width="1"/>
<text x="472.50" y="126.50" font-size="8.7" text-anchor="middle">300</text>
<text x="505.00" y="126.50" font-size="8.7" text-anchor="middle">400</text>
<text x="537.50" y="126.50" font-size="8.7" text-anchor="middle">500</text>
<text x="570.00" y="126.50" font-size="8.7" text-anchor="middle">600</text>
<text x="451.00" y="108.35" font-size="8.7" text-anchor="end">0.00</text>
<text x="451.00" y="84.69" font-size="8.7" text-anchor="end">0.02</text>
<text x="451.00" y="61.03" font-size="8.7" text-anchor="end">0.04</text>
<text x="451.00" y="37.37" font-size="8.7" text-anchor="end">0.06</text>
<text x="520.50" y="140.00" font-size="8.7" text-anchor="middle">Wavelength (nm)</text>
<text x="428.00" y="67.00" font-size="8.7" text-anchor="middle" transform="rotate(-90 428.00 67.00)">Absorbance</text>
<text x="518.00" y="47.50" font-size="9.2" text-anchor="middle">Dark</text>
<line x1="527.50" y1="50.00" x2="541.00" y2="69.50" stroke="#111" stroke-width="0.6"/>
<text x="502.30" y="80.00" font-size="9.2" text-anchor="middle">Light</text>
<line x1="509.50" y1="81.50" x2="520.00" y2="102.60" stroke="#111" stroke-width="0.6"/>
<text x="603.80" y="10.20" font-size="14" text-anchor="start" font-weight="bold">e</text>
<rect x="637.00" y="16.30" width="12.20" height="2.70" fill="#000"/>
<rect x="652.20" y="16.30" width="27.50" height="2.70" fill="#000"/>
<text x="643.00" y="12.50" font-size="8.7" text-anchor="middle" font-style="italic">Syn</text>
<text x="667.30" y="12.50" font-size="8.7" text-anchor="middle" font-style="italic">Anti</text>
<polyline points="616.25,87.60 616.50,87.60 616.75,87.60 617.00,87.60 617.25,87.60 617.50,87.60 617.75,87.60 618.00,87.60 618.25,87.60 618.50,87.60 618.75,87.60 619.00,87.60 619.25,87.60 619.50,87.60 619.75,87.60 620.00,87.60 620.25,87.60 620.50,87.60 620.75,87.60 621.00,87.60 621.25,87.60 621.50,87.60 621.75,87.60 622.00,87.60 622.25,87.60 622.50,87.60 622.75,87.60 623.15,78.40 623.75,92.00 624.10,87.60 624.25,87.60 624.50,87.60 624.75,87.60 625.00,87.60 625.25,87.60 625.50,87.60 625.75,87.60 626.00,87.60 626.25,87.60 626.50,87.60 626.75,87.60 627.00,87.60 627.25,87.60 627.50,87.60 627.75,87.60 628.00,87.60 628.25,87.60 628.50,87.60 628.75,87.60 629.00,87.60 629.25,87.60 629.50,87.60 629.75,87.60 630.00,87.60 630.25,87.60 630.50,87.60 630.75,87.60 631.00,87.60 631.25,87.60 631.50,87.60 631.75,87.60 632.00,87.60 632.25,87.60 632.50,87.60 632.75,87.60 633.00,87.60 633.25,87.60 633.50,87.60 633.75,87.60 634.00,87.60 634.25,87.60 634.50,87.60 634.75,87.60 635.00,87.60 635.25,87.60 635.50,87.60 635.75,87.60 636.00,87.60 636.25,87.60 636.50,87.60 636.75,87.60 637.00,87.60 637.25,87.60 637.50,87.60 637.75,87.60 638.00,87.60 638.25,87.60 638.50,87.60 638.75,87.60 639.00,87.60 639.25,87.60 639.50,87.60 639.75,87.60 640.00,87.60 640.25,87.60 640.50,87.60 640.75,87.53 641.00,85.56 641.25,69.55 641.50,36.88 641.60,32.00 641.75,42.38 642.00,74.81 642.25,86.45 642.50,87.57 642.75,87.60 643.00,87.60 643.25,87.60 643.50,87.60 643.75,87.60 644.00,87.60 644.25,87.60 644.50,87.60 644.75,87.60 645.00,87.60 645.25,87.60 645.50,87.60 645.75,87.60 646.00,87.60 646.25,87.60 646.50,87.60 646.75,87.60 647.00,87.60 647.25,87.56 647.50,87.43 647.75,87.16 648.00,87.00 648.25,87.16 648.50,87.43 648.75,87.56 649.00,87.60 649.25,87.60 649.50,87.60 649.75,87.60 650.00,87.60 650.25,87.60 650.50,87.60 650.75,87.60 651.00,87.60 651.25,87.60 651.50,87.60 651.75,87.60 652.00,87.60 652.25,87.60 652.50,87.60 652.75,87.60 653.00,87.60 653.25,87.60 653.50,87.60 653.75,87.60 654.00,87.60 654.25,87.60 654.50,87.60 654.75,87.60 655.00,87.60 655.25,87.60 655.50,87.60 655.75,87.60 656.00,87.60 656.25,87.60 656.50,87.60 656.75,87.60 657.00,87.60 657.25,87.60 657.50,87.60 657.75,87.60 658.00,87.60 658.25,87.60 658.50,87.60 658.75,87.60 659.00,87.60 659.25,87.60 659.50,87.60 659.75,87.60 660.00,87.60 660.25,87.60 660.50,87.60 660.75,87.60 661.00,87.60 661.25,87.60 661.50,87.60 661.75,87.60 662.00,87.60 662.25,87.60 662.50,87.60 662.75,87.60 663.00,87.60 663.25,87.60 663.50,87.60 663.75,87.60 664.00,87.60 664.25,87.60 664.50,87.60 664.75,87.60 665.00,87.60 665.25,87.60 665.50,87.60 665.75,87.60 666.00,87.60 666.25,87.60 666.50,87.60 666.75,87.60 667.00,87.60 667.25,87.60 667.50,87.60 667.75,87.60 668.00,87.60 668.25,87.60 668.50,87.60 668.75,87.60 669.00,87.60 669.25,87.60 669.50,87.60 669.75,87.60 670.00,87.60 670.25,87.60 670.50,87.60 670.75,87.60 671.00,87.60 671.25,87.60 671.50,87.60 671.75,87.60 672.00,87.60 672.25,87.60 672.50,87.60 672.75,87.60 673.00,87.58 673.25,87.43 673.50,86.80 673.75,84.92 674.00,81.21 674.25,76.84 674.50,74.80 674.75,76.84 675.00,81.21 675.25,84.92 675.50,86.80 675.75,87.43 676.00,87.58 676.25,87.60 676.50,87.60 676.75,87.60 677.00,87.60 677.25,87.60 677.50,87.60 677.75,87.60 678.00,87.60 678.25,87.60 678.50,87.60 678.75,87.60 679.00,87.60 679.25,87.60 679.50,87.60 679.75,87.60 680.00,87.60 680.25,87.60 680.50,87.60 680.75,87.60 681.00,87.60 681.25,87.60 681.50,87.60 681.75,87.60 682.00,87.60 682.25,87.60 682.50,87.60 682.75,87.60 683.00,87.60 683.25,87.60 683.50,87.60" fill="none" stroke="#111" stroke-width="0.95" stroke-linejoin="round"/>
<polyline points="616.25,105.20 616.50,105.20 616.75,105.20 617.00,105.20 617.25,105.20 617.50,105.20 617.75,105.20 618.00,105.20 618.25,105.20 618.50,105.20 618.75,105.20 619.00,105.20 619.25,105.20 619.50,105.20 619.75,105.20 620.00,105.20 620.25,105.20 620.50,105.20 620.75,105.20 621.00,105.20 621.25,105.20 621.50,105.20 621.75,105.20 622.00,105.20 622.25,105.20 622.50,105.20 622.75,105.20 623.15,97.80 623.75,109.30 624.10,105.20 624.25,105.20 624.50,105.20 624.75,105.20 625.00,105.20 625.25,105.20 625.50,105.20 625.75,105.20 626.00,105.20 626.25,105.20 626.50,105.20 626.75,105.20 627.00,105.20 627.25,105.20 627.50,105.20 627.75,105.20 628.00,105.20 628.25,105.20 628.50,105.20 628.75,105.20 629.00,105.20 629.25,105.20 629.50,105.20 629.75,105.20 630.00,105.20 630.25,105.20 630.50,105.20 630.75,105.20 631.00,105.20 631.25,105.20 631.50,105.20 631.75,105.20 632.00,105.20 632.25,105.20 632.50,105.20 632.75,105.20 633.00,105.20 633.25,105.20 633.50,105.20 633.75,105.20 634.00,105.20 634.25,105.20 634.50,105.20 634.75,105.20 635.00,105.20 635.25,105.20 635.50,105.20 635.75,105.20 636.00,105.20 636.25,105.20 636.50,105.20 636.75,105.20 637.00,105.20 637.25,105.20 637.50,105.20 637.75,105.20 638.00,105.20 638.25,105.20 638.50,105.20 638.75,105.20 639.00,105.20 639.25,105.20 639.50,105.20 639.75,105.20 640.00,105.20 640.25,105.20 640.50,105.20 640.75,105.18 641.00,105.04 641.25,104.37 641.50,102.83 641.75,101.55 641.80,101.50 642.00,102.16 642.25,103.84 642.50,104.87 642.75,105.16 643.00,105.20 643.25,105.20 643.50,105.20 643.75,105.20 644.00,105.20 644.25,105.20 644.50,105.20 644.75,105.20 645.00,105.20 645.25,105.20 645.50,105.20 645.75,105.20 646.00,105.20 646.25,105.20 646.50,105.20 646.75,105.20 647.00,105.20 647.25,105.20 647.50,105.20 647.75,105.20 648.00,105.20 648.25,105.20 648.50,105.20 648.75,105.20 649.00,105.20 649.25,105.20 649.50,105.20 649.75,105.20 650.00,105.20 650.25,105.20 650.50,105.20 650.75,105.20 651.00,105.20 651.25,105.20 651.50,105.20 651.75,105.20 652.00,105.20 652.25,105.20 652.50,105.20 652.75,105.20 653.00,105.20 653.25,105.20 653.50,105.20 653.75,105.20 654.00,105.20 654.25,105.20 654.50,105.20 654.75,105.20 655.00,105.20 655.25,105.20 655.50,105.20 655.75,105.20 656.00,105.20 656.25,105.20 656.50,105.20 656.75,105.20 657.00,105.20 657.25,105.20 657.50,105.20 657.75,105.20 658.00,105.20 658.25,105.20 658.50,105.20 658.75,105.20 659.00,105.20 659.25,105.20 659.50,105.20 659.75,105.20 660.00,105.20 660.25,105.20 660.50,105.20 660.75,105.20 661.00,105.20 661.25,105.20 661.50,105.20 661.75,105.20 662.00,105.20 662.25,105.20 662.50,105.20 662.75,105.20 663.00,105.20 663.25,105.20 663.50,105.20 663.75,105.20 664.00,105.20 664.25,105.20 664.50,105.20 664.75,105.20 665.00,105.20 665.25,105.20 665.50,105.20 665.75,105.20 666.00,105.20 666.25,105.20 666.50,105.20 666.75,105.20 667.00,105.20 667.25,105.20 667.50,105.20 667.75,105.20 668.00,105.20 668.25,105.20 668.50,105.20 668.75,105.20 669.00,105.20 669.25,105.20 669.50,105.20 669.75,105.20 670.00,105.20 670.25,105.20 670.50,105.20 670.75,105.20 671.00,105.20 671.25,105.20 671.50,105.20 671.75,105.20 672.00,105.20 672.25,105.20 672.50,105.20 672.75,105.20 673.00,105.20 673.25,105.19 673.50,105.15 673.75,105.03 674.00,104.80 674.25,104.53 674.50,104.40 674.75,104.53 675.00,104.80 675.25,105.03 675.50,105.15 675.75,105.19 676.00,105.20 676.25,105.20 676.50,105.20 676.75,105.20 677.00,105.20 677.25,105.20 677.50,105.20 677.75,105.20 678.00,105.20 678.25,105.20 678.50,105.20 678.75,105.20 679.00,105.20 679.25,105.20 679.50,105.20 679.75,105.20 680.00,105.20 680.25,105.20 680.50,105.20 680.75,105.20 681.00,105.20 681.25,105.20 681.50,105.20 681.75,105.20 682.00,105.20 682.25,105.20 682.50,105.20 682.75,105.20 683.00,105.20 683.25,105.20 683.50,105.20" fill="none" stroke="#d8404a" stroke-width="0.95" stroke-linejoin="round"/>
<rect x="616.25" y="20.50" width="67.25" height="94.75" stroke="#1a1a1a" stroke-width="1" fill="none"/>
<line x1="637.25" y1="115.25" x2="637.25" y2="110.75" stroke="#1a1a1a" stroke-width="1"/>
<line x1="637.25" y1="20.50" x2="637.25" y2="25.00" stroke="#1a1a1a" stroke-width="1"/>
<line x1="658.00" y1="115.25" x2="658.00" y2="110.75" stroke="#1a1a1a" stroke-width="1"/>
<line x1="658.00" y1="20.50" x2="658.00" y2="25.00" stroke="#1a1a1a" stroke-width="1"/>
<line x1="678.75" y1="115.25" x2="678.75" y2="110.75" stroke="#1a1a1a" stroke-width="1"/>
<line x1="678.75" y1="20.50" x2="678.75" y2="25.00" stroke="#1a1a1a" stroke-width="1"/>
<line x1="616.25" y1="38.50" x2="619.25" y2="38.50" stroke="#1a1a1a" stroke-width="1"/>
<line x1="683.50" y1="38.50" x2="680.50" y2="38.50" stroke="#1a1a1a" stroke-width="1"/>
<line x1="616.25" y1="62.90" x2="619.25" y2="62.90" stroke="#1a1a1a" stroke-width="1"/>
<line x1="683.50" y1="62.90" x2="680.50" y2="62.90" stroke="#1a1a1a" stroke-width="1"/>
<text x="642.40" y="29.70" font-size="8.6" text-anchor="middle">AT</text>
<text x="673.20" y="71.90" font-size="8.4" text-anchor="middle">AT</text>
<text x="616.50" y="126.50" font-size="8.7" text-anchor="middle">0</text>
<text x="637.25" y="126.50" font-size="8.7" text-anchor="middle">5</text>
<text x="658.00" y="126.50" font-size="8.7" text-anchor="middle">10</text>
<text x="678.75" y="126.50" font-size="8.7" text-anchor="middle">15</text>
<text x="651.30" y="140.00" font-size="8.7" text-anchor="middle">Retention time</text>
<text x="651.30" y="149.50" font-size="8.7" text-anchor="middle">(min)</text>
<text x="611.70" y="67.70" font-size="8.7" text-anchor="middle" transform="rotate(-90 611.70 67.70)">Abs. at 360 nm</text>
<text x="-0.20" y="175.70" font-size="14" text-anchor="start" font-weight="bold">f</text>
<line x1="35.50" y1="273.00" x2="168.50" y2="273.00" stroke="#888" stroke-width="1"/>
<polyline points="35.50,214.00 35.83,213.35 36.28,212.44 36.81,211.38 37.39,210.22 37.97,209.07 38.50,208.00 39.01,206.99 39.52,205.97 40.03,204.95 40.54,203.94 41.03,202.95 41.50,202.00 41.95,201.06 42.39,200.12 42.82,199.20 43.23,198.33 43.62,197.52 44.00,196.80 44.35,196.12 44.69,195.44 45.00,194.83 45.30,194.34 45.60,194.05 45.90,194.00 46.19,194.16 46.48,194.46 46.76,194.95 47.04,195.67 47.32,196.68 47.60,198.00 47.88,199.64 48.17,201.56 48.45,203.75 48.73,206.22 49.02,208.97 49.30,212.00 49.58,215.49 49.87,219.48 50.16,223.75 50.44,228.07 50.72,232.23 51.00,236.00 51.27,239.49 51.54,242.91 51.81,246.16 52.07,249.15 52.33,251.79 52.60,254.00 52.86,255.69 53.11,256.91 53.37,257.78 53.63,258.43 53.90,258.96 54.20,259.50 54.55,260.00 54.94,260.35 55.35,260.59 55.74,260.76 56.07,260.88 56.30,261.00 56.27,261.15 57.90,261.30 59.53,261.46 61.17,261.61 62.80,261.76 64.43,261.92 66.07,262.07 67.70,262.23 69.34,262.38 70.97,262.53 72.60,262.69 74.24,262.84 75.87,262.99 77.50,263.13 79.14,263.26 80.77,263.38 82.40,263.48 84.04,263.55 85.67,263.58 87.30,263.55 88.94,263.44 90.57,263.23 92.20,262.89 93.84,262.39 95.47,261.69 97.10,260.78 98.74,259.61 100.37,258.16 102.00,256.43 103.64,254.42 105.27,252.15 106.91,249.67 108.54,247.03 110.17,244.34 111.81,241.68 113.44,239.19 115.07,236.96 116.71,235.13 118.34,233.80 119.97,233.04 121.61,232.90 123.24,233.41 124.87,234.54 126.51,236.25 128.14,238.46 129.77,241.05 131.41,243.93 133.04,246.96 134.68,250.03 136.31,253.04 137.94,255.91 139.58,258.56 141.21,260.96 142.84,263.08 144.48,264.92 146.11,266.49 147.74,267.81 149.38,268.92 151.01,269.84 152.64,270.61 154.28,271.26 155.91,271.84 157.54,272.39 159.18,272.74 160.81,272.83 162.44,272.89 164.08,272.93 165.71,272.96 167.34,272.98" fill="none" stroke="#222" stroke-width="0.85" stroke-linejoin="round"/>
<polyline points="35.50,238.00 35.83,236.73 36.28,234.97 36.81,232.88 37.39,230.63 37.97,228.39 38.50,226.30 39.01,224.33 39.52,222.34 40.03,220.35 40.54,218.38 41.03,216.46 41.50,214.60 41.95,212.77 42.39,210.93 42.82,209.14 43.23,207.44 43.62,205.86 44.00,204.46 44.35,203.17 44.69,201.94 45.00,200.85 45.30,199.95 45.60,199.31 45.90,199.00 46.19,199.00 46.48,199.26 46.76,199.78 47.04,200.58 47.32,201.65 47.60,203.00 47.88,204.64 48.17,206.56 48.45,208.75 48.73,211.22 49.02,213.97 49.30,217.00 49.58,220.58 49.87,224.77 50.16,229.23 50.44,233.64 50.72,237.68 51.00,241.00 51.27,243.57 51.54,245.63 51.81,247.31 52.07,248.73 52.33,250.02 52.60,251.30 52.86,252.54 53.11,253.64 53.37,254.60 53.63,255.44 53.90,256.17 54.20,256.80 54.55,257.30 54.94,257.65 55.35,257.89 55.74,258.06 56.07,258.18 56.30,258.30 56.27,257.57 56.92,257.19 57.57,258.18 58.23,257.45 58.88,257.22 59.53,258.34 60.19,260.04 60.84,259.71 61.49,259.64 62.15,257.95 62.80,259.01 63.45,258.22 64.11,257.94 64.76,257.78 65.41,258.17 66.07,260.50 66.72,260.24 67.37,260.21 68.03,260.24 68.68,258.35 69.34,258.77 69.99,259.84 70.64,260.22 71.30,260.66 71.95,260.79 72.60,258.30 73.26,260.01 73.91,260.27 74.56,259.79 75.22,258.79 75.87,259.78 76.52,258.60 77.18,261.35 77.83,261.17 78.48,260.20 79.14,259.45 79.79,261.44 80.44,260.40 81.10,261.43 81.75,261.35 82.40,260.29 83.06,260.02 83.71,260.64 84.36,260.12 85.02,259.27 85.67,259.74 86.32,261.37 86.98,258.90 87.63,258.90 88.28,260.74 88.94,259.61 89.59,260.38 90.24,260.13 90.90,259.66 91.55,261.69 92.20,259.04 92.86,259.63 93.51,258.85 94.16,260.09 94.82,258.81 95.47,258.90 96.12,259.97 96.78,258.40 97.43,258.94 98.08,259.80 98.74,256.97 99.39,256.56 100.04,256.79 100.70,258.18 101.35,257.35 102.00,255.78 102.66,255.69 103.31,254.79 103.97,255.27 104.62,253.49 105.27,255.13 105.93,255.30 106.58,255.00 107.23,253.81 107.89,254.03 108.54,250.52 109.19,250.88 109.85,252.55 110.50,251.44 111.15,249.79 111.81,251.02 112.46,249.52 113.11,249.71 113.77,247.61 114.42,246.89 115.07,247.34 115.73,246.02 116.38,246.50 117.03,248.09 117.69,245.85 118.34,244.64 118.99,244.62 119.65,244.93 120.30,246.85 120.95,245.51 121.61,245.33 122.26,244.81 122.91,247.80 123.57,246.21 124.22,245.77 124.87,245.58 125.53,245.91 126.18,246.65 126.83,248.70 127.49,247.47 128.14,247.61 128.79,249.58 129.45,249.36 130.10,252.33 130.75,250.13 131.41,252.05 132.06,253.47 132.71,252.96 133.37,255.46 134.02,254.50 134.68,254.41 135.33,255.61 135.98,255.08 136.64,256.97 137.29,257.06 137.94,259.75 138.60,260.19 139.25,259.74 139.90,258.85 140.56,260.14 141.21,260.67 141.86,261.10 142.52,261.71 143.17,264.26 143.82,262.42 144.48,262.60 145.13,265.86 145.78,265.13 146.44,266.91 147.09,265.43 147.74,266.13 148.40,266.50 149.05,266.86 149.70,267.21 150.36,267.54 151.01,267.87 151.66,268.19 152.32,268.51 152.97,268.83 153.62,269.15 154.28,269.47 154.93,269.80 155.58,270.15 156.24,270.53 156.89,270.96 157.54,271.50 158.20,272.71 158.85,272.75 159.50,272.79 160.16,272.82 160.81,272.84 161.46,272.87 162.12,272.89 162.77,272.90 163.42,272.92 164.08,272.93 164.73,272.94 165.38,272.95 166.04,272.96 166.69,272.97 167.34,272.97" fill="none" stroke="#e0562a" stroke-width="0.85" stroke-linejoin="round"/>
<polyline points="35.50,220.00 35.83,219.23 36.28,218.17 36.81,216.92 37.39,215.56 37.97,214.21 38.50,212.95 39.01,211.76 39.52,210.57 40.03,209.37 40.54,208.18 41.03,207.02 41.50,205.90 41.95,204.79 42.39,203.69 42.82,202.61 43.23,201.58 43.62,200.63 44.00,199.79 44.35,198.99 44.69,198.21 45.00,197.51 45.30,196.95 45.60,196.59 45.90,196.50 46.19,196.63 46.48,196.92 46.76,197.42 47.04,198.16 47.32,199.17 47.60,200.50 47.88,202.14 48.17,204.06 48.45,206.25 48.73,208.72 49.02,211.47 49.30,214.50 49.58,218.04 49.87,222.13 50.16,226.50 50.44,230.87 50.72,234.96 51.00,238.50 51.27,241.51 51.54,244.22 51.81,246.66 52.07,248.83 52.33,250.77 52.60,252.50 52.86,253.95 53.11,255.11 53.37,256.03 53.63,256.78 53.90,257.41 54.20,258.00 54.55,258.50 54.94,258.85 55.35,259.09 55.74,259.26 56.07,259.38 56.30,259.50 56.27,259.72 56.92,259.86 57.57,259.96 58.23,260.12 58.88,260.03 59.53,260.21 60.19,259.65 60.84,260.01 61.49,260.40 62.15,260.25 62.80,260.48 63.45,259.99 64.11,260.29 64.76,260.20 65.41,260.46 66.07,260.54 66.72,260.20 67.37,260.40 68.03,260.51 68.68,261.01 69.34,260.96 69.99,260.60 70.64,261.10 71.30,260.70 71.95,261.09 72.60,260.80 73.26,260.77 73.91,261.44 74.56,261.03 75.22,261.09 75.87,261.69 76.52,261.66 77.18,261.31 77.83,261.84 78.48,261.59 79.14,261.74 79.79,261.46 80.44,262.03 81.10,261.90 81.75,262.14 82.40,262.13 83.06,261.75 83.71,261.83 84.36,261.73 85.02,261.75 85.67,261.71 86.32,261.90 86.98,262.13 87.63,261.72 88.28,262.19 88.94,261.95 89.59,261.92 90.24,262.25 90.90,261.99 91.55,261.83 92.20,261.90 92.86,261.99 93.51,261.46 94.16,262.02 94.82,261.25 95.47,261.64 96.12,261.58 96.78,260.85 97.43,261.23 98.08,260.75 98.74,260.71 99.39,260.09 100.04,259.89 100.70,259.74 101.35,260.01 102.00,259.20 102.66,259.30 103.31,259.10 103.97,258.79 104.62,258.03 105.27,257.68 105.93,257.43 106.58,257.24 107.23,256.39 107.89,256.45 108.54,256.09 109.19,255.75 109.85,254.78 110.50,255.03 111.15,254.06 111.81,253.86 112.46,253.69 113.11,253.57 113.77,252.84 114.42,252.94 115.07,252.40 115.73,251.98 116.38,251.75 117.03,251.46 117.69,251.22 118.34,251.14 118.99,251.43 119.65,251.59 120.30,250.98 120.95,250.92 121.61,251.64 122.26,251.42 122.91,251.47 123.57,251.53 124.22,252.00 124.87,252.42 125.53,252.45 126.18,252.75 126.83,252.85 127.49,253.84 128.14,253.63 128.79,254.40 129.45,255.11 130.10,255.10 130.75,256.02 131.41,256.69 132.06,257.00 132.71,257.65 133.37,257.72 134.02,258.51 134.68,258.86 135.33,259.90 135.98,260.07 136.64,260.73 137.29,261.65 137.94,262.08 138.60,262.69 139.25,262.83 139.90,263.36 140.56,264.01 141.21,264.30 141.86,264.63 142.52,265.14 143.17,265.39 143.82,265.96 144.48,266.78 145.13,267.13 145.78,267.26 146.44,267.52 147.09,267.74 147.74,268.17 148.40,268.48 149.05,268.77 149.70,269.06 150.36,269.33 151.01,269.60 151.66,269.86 152.32,270.11 152.97,270.36 153.62,270.60 154.28,270.85 154.93,271.10 155.58,271.35 156.24,271.61 156.89,271.90 157.54,272.23 158.20,272.77 158.85,272.80 159.50,272.83 160.16,272.85 160.81,272.87 161.46,272.89 162.12,272.91 162.77,272.92 163.42,272.93 164.08,272.94 164.73,272.95 165.38,272.96 166.04,272.97 166.69,272.97 167.34,272.98" fill="none" stroke="#cdb92a" stroke-width="0.85" stroke-linejoin="round"/>
<polyline points="35.50,216.00 35.83,215.33 36.28,214.41 36.81,213.31 37.39,212.13 37.97,210.95 38.50,209.85 39.01,208.82 39.52,207.77 40.03,206.72 40.54,205.69 41.03,204.68 41.50,203.70 41.95,202.74 42.39,201.77 42.82,200.83 43.23,199.93 43.62,199.11 44.00,198.37 44.35,197.67 44.69,196.98 45.00,196.35 45.30,195.86 45.60,195.55 45.90,195.50 46.19,195.65 46.48,195.95 46.76,196.45 47.04,197.17 47.32,198.18 47.60,199.50 47.88,201.14 48.17,203.06 48.45,205.25 48.73,207.72 49.02,210.47 49.30,213.50 49.58,217.01 49.87,221.06 50.16,225.38 50.44,229.72 50.72,233.85 51.00,237.50 51.27,240.75 51.54,243.81 51.81,246.66 52.07,249.24 52.33,251.53 52.60,253.50 52.86,255.07 53.11,256.26 53.37,257.16 53.63,257.85 53.90,258.44 54.20,259.00 54.55,259.50 54.94,259.85 55.35,260.09 55.74,260.26 56.07,260.38 56.30,260.50 56.27,260.86 56.92,260.95 57.57,260.77 58.23,260.68 58.88,260.56 59.53,261.09 60.19,261.02 60.84,261.28 61.49,261.08 62.15,261.42 62.80,261.14 63.45,261.57 64.11,261.58 64.76,261.43 65.41,261.58 66.07,261.74 66.72,261.47 67.37,261.78 68.03,262.02 68.68,261.71 69.34,262.15 69.99,262.13 70.64,262.31 71.30,262.02 71.95,261.91 72.60,262.47 73.26,262.54 73.91,262.35 74.56,262.17 75.22,262.31 75.87,262.68 76.52,262.50 77.18,263.02 77.83,262.83 78.48,262.62 79.14,263.00 79.79,262.85 80.44,263.31 81.10,263.35 81.75,263.13 82.40,263.28 83.06,263.37 83.71,263.49 84.36,263.66 85.02,263.04 85.67,263.32 86.32,263.52 86.98,263.35 87.63,263.58 88.28,263.26 88.94,263.83 89.59,263.60 90.24,263.33 90.90,263.71 91.55,263.46 92.20,263.37 92.86,263.56 93.51,263.29 94.16,263.30 94.82,263.72 95.47,263.54 96.12,263.00 96.78,263.46 97.43,262.84 98.08,262.96 98.74,263.25 99.39,262.93 100.04,262.58 100.70,262.48 101.35,262.33 102.00,261.98 102.66,262.41 103.31,261.56 103.97,261.62 104.62,261.64 105.27,261.18 105.93,261.36 106.58,260.61 107.23,260.89 107.89,260.59 108.54,260.19 109.19,260.10 109.85,259.55 110.50,259.57 111.15,259.31 111.81,258.89 112.46,258.64 113.11,258.59 113.77,258.18 114.42,257.77 115.07,258.07 115.73,257.58 116.38,257.60 117.03,257.70 117.69,257.18 118.34,257.01 118.99,257.04 119.65,257.35 120.30,257.20 120.95,257.17 121.61,257.37 122.26,257.79 122.91,257.44 123.57,257.69 124.22,258.19 124.87,258.20 125.53,258.18 126.18,258.57 126.83,258.84 127.49,258.89 128.14,259.36 128.79,259.64 129.45,260.33 130.10,260.35 130.75,260.95 131.41,261.55 132.06,261.90 132.71,261.91 133.37,262.46 134.02,262.67 134.68,263.12 135.33,263.59 135.98,264.20 136.64,264.69 137.29,264.63 137.94,264.82 138.60,265.51 139.25,265.60 139.90,265.94 140.56,266.82 141.21,266.69 141.86,267.45 142.52,267.52 143.17,268.23 143.82,268.47 144.48,268.20 145.13,268.57 145.78,269.36 146.44,269.38 147.09,269.49 147.74,269.78 148.40,270.00 149.05,270.22 149.70,270.43 150.36,270.63 151.01,270.82 151.66,271.01 152.32,271.19 152.97,271.37 153.62,271.54 154.28,271.72 154.93,271.89 155.58,272.06 156.24,272.23 156.89,272.41 157.54,272.60 158.20,272.84 158.85,272.86 159.50,272.88 160.16,272.90 160.81,272.91 161.46,272.93 162.12,272.94 162.77,272.95 163.42,272.95 164.08,272.96 164.73,272.97 165.38,272.97 166.04,272.98 166.69,272.98 167.34,272.98" fill="none" stroke="#74b944" stroke-width="0.85" stroke-linejoin="round"/>
<polyline points="35.50,213.00 35.83,212.40 36.28,211.56 36.81,210.57 37.39,209.51 37.97,208.44 38.50,207.45 39.01,206.52 39.52,205.57 40.03,204.63 40.54,203.70 41.03,202.78 41.50,201.90 41.95,201.03 42.39,200.16 42.82,199.31 43.23,198.50 43.62,197.75 44.00,197.09 44.35,196.45 44.69,195.82 45.00,195.24 45.30,194.79 45.60,194.52 45.90,194.50 46.19,194.67 46.48,194.97 46.76,195.46 47.04,196.18 47.32,197.18 47.60,198.50 47.88,200.14 48.17,202.06 48.45,204.25 48.73,206.72 49.02,209.47 49.30,212.50 49.58,215.99 49.87,219.97 50.16,224.23 50.44,228.55 50.72,232.71 51.00,236.50 51.27,240.03 51.54,243.50 51.81,246.81 52.07,249.86 52.33,252.56 52.60,254.80 52.86,256.50 53.11,257.73 53.37,258.60 53.63,259.24 53.90,259.76 54.20,260.30 54.55,260.80 54.94,261.15 55.35,261.39 55.74,261.56 56.07,261.68 56.30,261.80 56.27,261.82 56.92,261.73 57.57,262.25 58.23,261.80 58.88,262.29 59.53,262.21 60.19,262.00 60.84,262.48 61.49,262.13 62.15,262.55 62.80,262.30 63.45,262.39 64.11,262.76 64.76,263.19 65.41,262.63 66.07,262.79 66.72,263.22 67.37,263.58 68.03,263.32 68.68,263.23 69.34,263.82 69.99,263.05 70.64,263.85 71.30,263.41 71.95,263.35 72.60,263.40 73.26,263.64 73.91,264.17 74.56,263.66 75.22,264.09 75.87,264.22 76.52,264.05 77.18,264.27 77.83,263.91 78.48,263.97 79.14,264.17 79.79,264.67 80.44,264.51 81.10,264.47 81.75,264.78 82.40,264.73 83.06,264.66 83.71,265.17 84.36,265.15 85.02,264.80 85.67,265.16 86.32,265.18 86.98,265.55 87.63,265.48 88.28,265.14 88.94,265.82 89.59,265.09 90.24,265.41 90.90,265.77 91.55,265.27 92.20,265.62 92.86,265.25 93.51,265.86 94.16,265.98 94.82,265.84 95.47,266.14 96.12,265.66 96.78,266.02 97.43,265.95 98.08,265.95 98.74,265.85 99.39,266.20 100.04,266.30 100.70,265.87 101.35,266.03 102.00,265.48 102.66,266.04 103.31,265.98 103.97,266.27 104.62,266.09 105.27,265.58 105.93,265.64 106.58,265.86 107.23,265.24 107.89,265.60 108.54,265.30 109.19,265.22 109.85,265.13 110.50,265.73 111.15,265.12 111.81,265.20 112.46,265.30 113.11,265.71 113.77,264.97 114.42,265.29 115.07,265.36 115.73,265.66 116.38,265.60 117.03,265.65 117.69,265.14 118.34,265.28 118.99,265.26 119.65,265.77 120.30,265.89 120.95,265.22 121.61,265.31 122.26,265.43 122.91,265.52 123.57,265.84 124.22,266.03 124.87,265.85 125.53,265.74 126.18,266.24 126.83,266.33 127.49,266.65 128.14,267.14 128.79,267.06 129.45,267.06 130.10,267.31 130.75,267.53 131.41,267.14 132.06,268.08 132.71,268.15 133.37,268.41 134.02,268.52 134.68,268.33 135.33,268.51 135.98,268.43 136.64,269.08 137.29,268.74 137.94,268.91 138.60,269.21 139.25,269.33 139.90,269.66 140.56,269.56 141.21,269.67 141.86,269.95 142.52,270.06 143.17,270.44 143.82,270.27 144.48,271.17 145.13,271.07 145.78,270.78 146.44,270.99 147.09,271.20 147.74,271.45 148.40,271.57 149.05,271.68 149.70,271.78 150.36,271.89 151.01,271.99 151.66,272.08 152.32,272.18 152.97,272.27 153.62,272.36 154.28,272.45 154.93,272.54 155.58,272.62 156.24,272.70 156.89,272.79 157.54,272.87 158.20,272.95 158.85,272.95 159.50,272.96 160.16,272.97 160.81,272.97 161.46,272.97 162.12,272.98 162.77,272.98 163.42,272.98 164.08,272.99 164.73,272.99 165.38,272.99 166.04,272.99 166.69,272.99 167.34,272.99" fill="none" stroke="#2aa8b5" stroke-width="0.85" stroke-linejoin="round"/>
<polyline points="35.50,211.00 35.83,210.45 36.28,209.68 36.81,208.77 37.39,207.79 37.97,206.81 38.50,205.90 39.01,205.04 39.52,204.17 40.03,203.31 40.54,202.45 41.03,201.61 41.50,200.80 41.95,200.00 42.39,199.20 42.82,198.42 43.23,197.68 43.62,196.99 44.00,196.38 44.35,195.79 44.69,195.20 45.00,194.66 45.30,194.25 45.60,194.00 45.90,194.00 46.19,194.18 46.48,194.49 46.76,194.98 47.04,195.69 47.32,196.68 47.60,198.00 47.88,199.64 48.17,201.56 48.45,203.75 48.73,206.22 49.02,208.97 49.30,212.00 49.58,215.47 49.87,219.42 50.16,223.64 50.44,227.95 50.72,232.13 51.00,236.00 51.27,239.70 51.54,243.41 51.81,247.01 52.07,250.34 52.33,253.29 52.60,255.70 52.86,257.48 53.11,258.73 53.37,259.59 53.63,260.19 53.90,260.68 54.20,261.20 54.55,261.70 54.94,262.05 55.35,262.29 55.74,262.46 56.07,262.58 56.30,262.70 56.27,262.63 56.92,263.37 57.57,262.68 58.23,263.28 58.88,262.79 59.53,263.01 60.19,263.76 60.84,263.12 61.49,263.58 62.15,263.48 62.80,263.55 63.45,263.66 64.11,263.45 64.76,264.10 65.41,263.50 66.07,263.70 66.72,263.58 67.37,263.88 68.03,264.07 68.68,264.59 69.34,264.19 69.99,264.02 70.64,264.22 71.30,264.95 71.95,264.18 72.60,264.76 73.26,264.61 73.91,264.93 74.56,264.71 75.22,265.10 75.87,265.00 76.52,265.20 77.18,265.50 77.83,265.28 78.48,264.95 79.14,264.95 79.79,265.82 80.44,265.48 81.10,265.28 81.75,266.03 82.40,265.76 83.06,265.97 83.71,266.17 84.36,265.71 85.02,265.84 85.67,266.38 86.32,265.78 86.98,266.41 87.63,265.88 88.28,266.49 88.94,266.56 89.59,266.86 90.24,266.83 90.90,266.59 91.55,266.38 92.20,266.41 92.86,266.82 93.51,266.87 94.16,266.54 94.82,267.36 95.47,267.07 96.12,267.31 96.78,266.95 97.43,267.04 98.08,266.90 98.74,267.26 99.39,267.26 100.04,267.47 100.70,267.49 101.35,267.97 102.00,268.09 102.66,267.51 103.31,267.78 103.97,267.64 104.62,268.15 105.27,268.50 105.93,267.87 106.58,268.44 107.23,268.09 107.89,267.90 108.54,268.64 109.19,268.32 109.85,268.23 110.50,268.54 111.15,268.42 111.81,268.65 112.46,268.74 113.11,268.78 113.77,269.00 114.42,268.80 115.07,268.69 115.73,268.74 116.38,268.83 117.03,269.27 117.69,269.19 118.34,269.65 118.99,269.45 119.65,269.69 120.30,270.00 120.95,269.24 121.61,269.27 122.26,269.44 122.91,269.73 123.57,269.96 124.22,270.18 124.87,269.89 125.53,270.50 126.18,269.70 126.83,270.52 127.49,270.02 128.14,270.68 128.79,269.98 129.45,270.89 130.10,270.76 130.75,271.04 131.41,270.73 132.06,270.43 132.71,271.21 133.37,270.79 134.02,270.53 134.68,271.07 135.33,271.03 135.98,271.07 136.64,270.85 137.29,270.88 137.94,271.35 138.60,271.30 139.25,271.07 139.90,271.41 140.56,271.73 141.21,271.78 141.86,271.62 142.52,271.61 143.17,271.64 143.82,271.58 144.48,271.61 145.13,271.89 145.78,271.65 146.44,272.26 147.09,272.30 147.74,272.17 148.40,272.23 149.05,272.28 149.70,272.34 150.36,272.40 151.01,272.45 151.66,272.51 152.32,272.56 152.97,272.61 153.62,272.67 154.28,272.72 154.93,272.77 155.58,272.82 156.24,272.87 156.89,272.92 157.54,272.96 158.20,273.00 158.85,273.00 159.50,273.00 160.16,273.00 160.81,273.00 161.46,273.00 162.12,273.00 162.77,273.00 163.42,273.00 164.08,273.00 164.73,273.00 165.38,273.00 166.04,273.00 166.69,273.00 167.34,273.00" fill="none" stroke="#2d4ea8" stroke-width="0.85" stroke-linejoin="round"/>
<rect x="35.50" y="185.00" width="133.00" height="97.50" stroke="#1a1a1a" stroke-width="1" fill="none"/>
<line x1="53.00" y1="282.50" x2="53.00" y2="277.50" stroke="#1a1a1a" stroke-width="1"/>
<line x1="53.00" y1="185.00" x2="53.00" y2="190.00" stroke="#1a1a1a" stroke-width="1"/>
<line x1="85.67" y1="282.50" x2="85.67" y2="277.50" stroke="#1a1a1a" stroke-width="1"/>
<line x1="85.67" y1="185.00" x2="85.67" y2="190.00" stroke="#1a1a1a" stroke-width="1"/>
<line x1="118.34" y1="282.50" x2="118.34" y2="277.50" stroke="#1a1a1a" stroke-width="1"/>
<line x1="118.34" y1="185.00" x2="118.34" y2="190.00" stroke="#1a1a1a" stroke-width="1"/>
<line x1="151.01" y1="282.50" x2="151.01" y2="277.50" stroke="#1a1a1a" stroke-width="1"/>
<line x1="151.01" y1="185.00" x2="151.01" y2="190.00" stroke="#1a1a1a" stroke-width="1"/>
<line x1="35.50" y1="273.00" x2="40.50" y2="273.00" stroke="#1a1a1a" stroke-width="1"/>
<line x1="168.50" y1="273.00" x2="163.50" y2="273.00" stroke="#1a1a1a" stroke-width="1"/>
<line x1="35.50" y1="251.00" x2="40.50" y2="251.00" stroke="#1a1a1a" stroke-width="1"/>
<line x1="168.50" y1="251.00" x2="163.50" y2="251.00" stroke="#1a1a1a" stroke-width="1"/>
<line x1="35.50" y1="229.00" x2="40.50" y2="229.00" stroke="#1a1a1a" stroke-width="1"/>
<line x1="168.50" y1="229.00" x2="163.50" y2="229.00" stroke="#1a1a1a" stroke-width="1"/>
<line x1="35.50" y1="207.00" x2="40.50" y2="207.00" stroke="#1a1a1a" stroke-width="1"/>
<line x1="168.50" y1="207.00" x2="163.50" y2="207.00" stroke="#1a1a1a" stroke-width="1"/>
<line x1="35.50" y1="185.00" x2="40.50" y2="185.00" stroke="#1a1a1a" stroke-width="1"/>
<line x1="168.50" y1="185.00" x2="163.50" y2="185.00" stroke="#1a1a1a" stroke-width="1"/>
<text x="53.00" y="293.50" font-size="8.7" text-anchor="middle">300</text>
<text x="85.67" y="293.50" font-size="8.7" text-anchor="middle">400</text>
<text x="118.34" y="293.50" font-size="8.7" text-anchor="middle">500</text>
<text x="151.01" y="293.50" font-size="8.7" text-anchor="middle">600</text>
<text x="31.20" y="276.10" font-size="8.7" text-anchor="end">0.00</text>
<text x="31.20" y="254.10" font-size="8.7" text-anchor="end">0.05</text>
<text x="31.20" y="232.10" font-size="8.7" text-anchor="end">0.10</text>
<text x="31.20" y="210.10" font-size="8.7" text-anchor="end">0.15</text>
<text x="31.20" y="188.10" font-size="8.7" text-anchor="end">0.20</text>
<text x="102.00" y="307.00" font-size="8.7" text-anchor="middle">Wavelength (nm)</text>
<text x="8.20" y="232.80" font-size="8.7" text-anchor="middle" transform="rotate(-90 8.20 232.80)">Absorbance</text>
<text x="99.00" y="220.30" font-size="9.2" text-anchor="middle">Dark</text>
<line x1="107.80" y1="222.50" x2="118.00" y2="232.80" stroke="#111" stroke-width="0.6"/>
<text x="133.00" y="232.00" font-size="9.2" text-anchor="middle">1</text>
<line x1="130.30" y1="233.70" x2="117.20" y2="245.00" stroke="#111" stroke-width="0.6"/>
<text x="137.30" y="240.40" font-size="9.2" text-anchor="middle">2</text>
<line x1="135.00" y1="241.20" x2="120.90" y2="252.50" stroke="#111" stroke-width="0.6"/>
<text x="143.40" y="248.40" font-size="9.2" text-anchor="middle">3</text>
<line x1="140.60" y1="248.70" x2="124.60" y2="259.60" stroke="#111" stroke-width="0.6"/>
<text x="148.50" y="254.40" font-size="9.2" text-anchor="middle">4</text>
<line x1="146.20" y1="254.30" x2="129.30" y2="266.50" stroke="#111" stroke-width="0.6"/>
<text x="153.20" y="261.00" font-size="9.2" text-anchor="middle">5</text>
<line x1="150.90" y1="260.90" x2="137.75" y2="271.20" stroke="#111" stroke-width="0.6"/>
<text x="182.60" y="175.70" font-size="14" text-anchor="start" font-weight="bold">g</text>
<polyline points="209.50,200.20 209.88,200.25 210.39,200.32 211.00,200.40 211.67,200.49 212.37,200.59 213.06,200.69 213.72,200.80 214.30,200.90 214.82,201.00 215.32,201.10 215.80,201.20 216.26,201.30 216.71,201.41 217.15,201.53 217.58,201.66 218.00,201.80 218.41,201.95 218.81,202.11 219.20,202.28 219.57,202.46 219.94,202.65 220.30,202.85 220.65,203.07 221.00,203.30 221.34,203.54 221.66,203.78 221.97,204.03 222.28,204.30 222.58,204.59 222.89,204.89 223.19,205.23 223.50,205.60 223.82,206.00 224.14,206.44 224.46,206.90 224.78,207.38 225.10,207.89 225.41,208.41 225.71,208.95 226.00,209.50 226.27,210.07 226.54,210.65 226.79,211.25 227.03,211.87 227.27,212.50 227.51,213.15 227.75,213.82 228.00,214.50 228.25,215.20 228.50,215.91 228.75,216.63 229.00,217.38 229.25,218.13 229.50,218.91 229.75,219.70 230.00,220.50 230.25,221.32 230.50,222.14 230.75,222.99 231.00,223.84 231.25,224.72 231.50,225.62 231.75,226.55 232.00,227.50 232.25,228.49 232.51,229.51 232.77,230.56 233.03,231.62 233.29,232.71 233.54,233.80 233.77,234.90 234.00,236.00 234.21,237.09 234.41,238.19 234.60,239.29 234.78,240.41 234.96,241.53 235.14,242.67 235.32,243.82 235.50,245.00 235.69,246.23 235.88,247.54 236.06,248.87 236.25,250.22 236.44,251.54 236.62,252.79 236.81,253.96 237.00,255.00 237.18,255.91 237.36,256.73 237.54,257.46 237.72,258.12 237.90,258.75 238.09,259.34 238.29,259.92 238.50,260.50 238.72,261.08 238.95,261.63 239.19,262.15 239.44,262.66 239.69,263.14 239.95,263.61 240.22,264.06 240.50,264.50 240.79,264.93 241.08,265.34 241.38,265.74 241.69,266.12 242.00,266.49 242.33,266.84 242.66,267.18 243.00,267.50 243.34,267.80 243.69,268.09 244.04,268.35 244.41,268.61 244.78,268.85 245.17,269.07 245.57,269.29 246.00,269.50 246.45,269.70 246.93,269.88 247.43,270.05 247.94,270.21 248.46,270.37 248.98,270.51 249.49,270.66 250.00,270.80 250.50,270.94 251.01,271.06 251.52,271.18 252.03,271.29 252.54,271.41 253.04,271.53 253.52,271.66 254.00,271.80 254.46,271.95 254.92,272.09 255.37,272.23 255.81,272.39 256.25,272.55 256.67,272.74 257.09,272.96 257.50,273.20 257.92,273.50 258.36,273.87 258.79,274.27 259.22,274.69 259.62,275.09 259.97,275.46 260.27,275.77 260.50,276.00" fill="none" stroke="#222" stroke-width="0.8" stroke-linejoin="round"/>
<circle cx="214.60" cy="199.20" r="1.95" stroke="#222" stroke-width="0.7" fill="none"/>
<circle cx="217.70" cy="200.40" r="1.95" stroke="#222" stroke-width="0.7" fill="none"/>
<circle cx="219.50" cy="202.50" r="1.95" stroke="#222" stroke-width="0.7" fill="none"/>
<circle cx="221.30" cy="201.50" r="1.95" stroke="#222" stroke-width="0.7" fill="none"/>
<circle cx="222.20" cy="204.00" r="1.95" stroke="#222" stroke-width="0.7" fill="none"/>
<circle cx="223.60" cy="205.90" r="1.95" stroke="#222" stroke-width="0.7" fill="none"/>
<circle cx="225.20" cy="208.30" r="1.95" stroke="#222" stroke-width="0.7" fill="none"/>
<circle cx="226.50" cy="210.60" r="1.95" stroke="#222" stroke-width="0.7" fill="none"/>
<circle cx="226.80" cy="214.50" r="1.95" stroke="#222" stroke-width="0.7" fill="none"/>
<circle cx="227.60" cy="216.90" r="1.95" stroke="#222" stroke-width="0.7" fill="none"/>
<circle cx="229.10" cy="219.70" r="1.95" stroke="#222" stroke-width="0.7" fill="none"/>
<circle cx="229.90" cy="222.30" r="1.95" stroke="#222" stroke-width="0.7" fill="none"/>
<circle cx="231.20" cy="225.00" r="1.95" stroke="#222" stroke-width="0.7" fill="none"/>
<circle cx="231.80" cy="227.80" r="1.95" stroke="#222" stroke-width="0.7" fill="none"/>
<circle cx="232.70" cy="231.00" r="1.95" stroke="#222" stroke-width="0.7" fill="none"/>
<circle cx="233.40" cy="234.70" r="1.95" stroke="#222" stroke-width="0.7" fill="none"/>
<circle cx="234.00" cy="238.50" r="1.95" stroke="#222" stroke-width="0.7" fill="none"/>
<circle cx="234.50" cy="241.70" r="1.95" stroke="#222" stroke-width="0.7" fill="none"/>
<circle cx="235.10" cy="245.80" r="1.95" stroke="#222" stroke-width="0.7" fill="none"/>
<circle cx="235.60" cy="249.90" r="1.95" stroke="#222" stroke-width="0.7" fill="none"/>
<circle cx="236.40" cy="253.90" r="1.95" stroke="#222" stroke-width="0.7" fill="none"/>
<circle cx="237.20" cy="258.00" r="1.95" stroke="#222" stroke-width="0.7" fill="none"/>
<circle cx="238.80" cy="261.20" r="1.95" stroke="#222" stroke-width="0.7" fill="none"/>
<circle cx="240.10" cy="263.70" r="1.95" stroke="#222" stroke-width="0.7" fill="none"/>
<circle cx="242.10" cy="266.10" r="1.95" stroke="#222" stroke-width="0.7" fill="none"/>
<circle cx="244.00" cy="268.00" r="1.95" stroke="#222" stroke-width="0.7" fill="none"/>
<circle cx="246.10" cy="269.30" r="1.95" stroke="#222" stroke-width="0.7" fill="none"/>
<circle cx="248.60" cy="270.10" r="1.95" stroke="#222" stroke-width="0.7" fill="none"/>
<circle cx="251.00" cy="271.00" r="1.95" stroke="#222" stroke-width="0.7" fill="none"/>
<circle cx="253.50" cy="271.40" r="1.95" stroke="#222" stroke-width="0.7" fill="none"/>
<circle cx="255.90" cy="272.30" r="1.95" stroke="#222" stroke-width="0.7" fill="none"/>
<circle cx="257.50" cy="273.40" r="1.95" stroke="#222" stroke-width="0.7" fill="none"/>
<circle cx="259.10" cy="275.00" r="1.95" stroke="#222" stroke-width="0.7" fill="none"/>
<polyline points="215.30,256.70 215.75,256.56 216.34,256.39 217.06,256.18 217.84,255.95 218.67,255.68 219.50,255.39 220.29,255.06 221.00,254.70 221.66,254.31 222.30,253.90 222.94,253.46 223.56,252.98 224.16,252.47 224.76,251.92 225.34,251.33 225.90,250.70 226.45,250.00 227.00,249.23 227.53,248.41 228.05,247.56 228.55,246.69 229.03,245.83 229.48,244.99 229.90,244.20 230.29,243.44 230.65,242.70 230.99,241.97 231.30,241.25 231.59,240.54 231.87,239.85 232.14,239.17 232.40,238.50 232.64,237.87 232.85,237.31 233.05,236.77 233.23,236.23 233.41,235.67 233.59,235.07 233.79,234.38 234.00,233.60 234.23,232.72 234.47,231.77 234.72,230.75 234.97,229.68 235.23,228.56 235.49,227.41 235.75,226.22 236.00,225.00 236.25,223.71 236.50,222.30 236.75,220.83 237.00,219.34 237.25,217.86 237.50,216.45 237.75,215.15 238.00,214.00 238.24,213.00 238.45,212.11 238.66,211.31 238.88,210.59 239.10,209.91 239.36,209.27 239.65,208.64 240.00,208.00 240.38,207.35 240.77,206.72 241.19,206.11 241.64,205.52 242.13,204.97 242.69,204.47 243.30,204.01 244.00,203.60 244.79,203.26 245.66,202.98 246.61,202.76 247.61,202.57 248.64,202.42 249.70,202.28 250.76,202.14 251.80,202.00 252.90,201.86 254.12,201.72 255.38,201.61 256.64,201.50 257.84,201.41 258.92,201.32 259.82,201.26 260.50,201.20" fill="none" stroke="#e04848" stroke-width="0.8" stroke-linejoin="round"/>
<polygon points="217.40,187.11 215.10,191.09 219.70,191.09" fill="none" stroke="#e04848" stroke-width="0.7"/>
<polygon points="219.70,213.71 217.40,217.69 222.00,217.69" fill="none" stroke="#e04848" stroke-width="0.7"/>
<polygon points="237.00,217.91 234.70,221.89 239.30,221.89" fill="none" stroke="#e04848" stroke-width="0.7"/>
<polygon points="239.30,210.61 237.00,214.59 241.60,214.59" fill="none" stroke="#e04848" stroke-width="0.7"/>
<polygon points="240.50,207.11 238.20,211.09 242.80,211.09" fill="none" stroke="#e04848" stroke-width="0.7"/>
<polygon points="241.60,203.51 239.30,207.49 243.90,207.49" fill="none" stroke="#e04848" stroke-width="0.7"/>
<polygon points="243.20,201.61 240.90,205.59 245.50,205.59" fill="none" stroke="#e04848" stroke-width="0.7"/>
<polygon points="246.30,197.21 244.00,201.19 248.60,201.19" fill="none" stroke="#e04848" stroke-width="0.7"/>
<polygon points="245.60,201.21 243.30,205.19 247.90,205.19" fill="none" stroke="#e04848" stroke-width="0.7"/>
<polygon points="248.70,208.21 246.40,212.19 251.00,212.19" fill="none" stroke="#e04848" stroke-width="0.7"/>
<polygon points="251.80,196.51 249.50,200.49 254.10,200.49" fill="none" stroke="#e04848" stroke-width="0.7"/>
<polygon points="255.00,198.81 252.70,202.79 257.30,202.79" fill="none" stroke="#e04848" stroke-width="0.7"/>
<polygon points="256.50,193.31 254.20,197.29 258.80,197.29" fill="none" stroke="#e04848" stroke-width="0.7"/>
<polygon points="258.10,201.91 255.80,205.89 260.40,205.89" fill="none" stroke="#e04848" stroke-width="0.7"/>
<polygon points="259.50,200.11 257.20,204.09 261.80,204.09" fill="none" stroke="#e04848" stroke-width="0.7"/>
<polygon points="253.50,200.61 251.20,204.59 255.80,204.59" fill="none" stroke="#e04848" stroke-width="0.7"/>
<polygon points="250.00,201.11 247.70,205.09 252.30,205.09" fill="none" stroke="#e04848" stroke-width="0.7"/>
<polygon points="236.20,219.91 233.90,223.89 238.50,223.89" fill="none" stroke="#e04848" stroke-width="0.7"/>
<polygon points="235.40,223.11 233.10,227.09 237.70,227.09" fill="none" stroke="#e04848" stroke-width="0.7"/>
<polygon points="233.80,230.11 231.50,234.09 236.10,234.09" fill="none" stroke="#e04848" stroke-width="0.7"/>
<polygon points="233.20,232.01 230.90,235.99 235.50,235.99" fill="none" stroke="#e04848" stroke-width="0.7"/>
<polygon points="223.40,238.51 221.10,242.49 225.70,242.49" fill="none" stroke="#e04848" stroke-width="0.7"/>
<polygon points="225.90,241.81 223.60,245.79 228.20,245.79" fill="none" stroke="#e04848" stroke-width="0.7"/>
<polygon points="225.00,245.01 222.70,248.99 227.30,248.99" fill="none" stroke="#e04848" stroke-width="0.7"/>
<polygon points="228.30,245.81 226.00,249.79 230.60,249.79" fill="none" stroke="#e04848" stroke-width="0.7"/>
<polygon points="229.10,248.31 226.80,252.29 231.40,252.29" fill="none" stroke="#e04848" stroke-width="0.7"/>
<polygon points="222.30,257.51 220.00,261.49 224.60,261.49" fill="none" stroke="#e04848" stroke-width="0.7"/>
<polygon points="214.50,267.31 212.20,271.29 216.80,271.29" fill="none" stroke="#e04848" stroke-width="0.7"/>
<polygon points="219.00,267.31 216.70,271.29 221.30,271.29" fill="none" stroke="#e04848" stroke-width="0.7"/>
<polygon points="226.20,269.41 223.90,273.39 228.50,273.39" fill="none" stroke="#e04848" stroke-width="0.7"/>
<polygon points="238.00,214.61 235.70,218.59 240.30,218.59" fill="none" stroke="#e04848" stroke-width="0.7"/>
<polygon points="242.50,205.11 240.20,209.09 244.80,209.09" fill="none" stroke="#e04848" stroke-width="0.7"/>
<rect x="209.50" y="184.50" width="53.50" height="98.00" stroke="#1a1a1a" stroke-width="1" fill="none"/>
<line x1="212.10" y1="282.50" x2="212.10" y2="278.50" stroke="#1a1a1a" stroke-width="1"/>
<line x1="212.10" y1="184.50" x2="212.10" y2="188.50" stroke="#1a1a1a" stroke-width="1"/>
<line x1="224.15" y1="282.50" x2="224.15" y2="278.50" stroke="#1a1a1a" stroke-width="1"/>
<line x1="224.15" y1="184.50" x2="224.15" y2="188.50" stroke="#1a1a1a" stroke-width="1"/>
<line x1="236.20" y1="282.50" x2="236.20" y2="278.50" stroke="#1a1a1a" stroke-width="1"/>
<line x1="236.20" y1="184.50" x2="236.20" y2="188.50" stroke="#1a1a1a" stroke-width="1"/>
<line x1="248.25" y1="282.50" x2="248.25" y2="278.50" stroke="#1a1a1a" stroke-width="1"/>
<line x1="248.25" y1="184.50" x2="248.25" y2="188.50" stroke="#1a1a1a" stroke-width="1"/>
<line x1="260.30" y1="282.50" x2="260.30" y2="278.50" stroke="#1a1a1a" stroke-width="1"/>
<line x1="260.30" y1="184.50" x2="260.30" y2="188.50" stroke="#1a1a1a" stroke-width="1"/>
<line x1="209.50" y1="253.20" x2="213.50" y2="253.20" stroke="#1a1a1a" stroke-width="1"/>
<line x1="209.50" y1="226.50" x2="213.50" y2="226.50" stroke="#1a1a1a" stroke-width="1"/>
<line x1="209.50" y1="199.80" x2="213.50" y2="199.80" stroke="#1a1a1a" stroke-width="1"/>
<line x1="263.00" y1="257.00" x2="258.50" y2="257.00" stroke="#1a1a1a" stroke-width="1"/>
<line x1="263.00" y1="225.30" x2="258.50" y2="225.30" stroke="#1a1a1a" stroke-width="1"/>
<line x1="263.00" y1="193.60" x2="258.50" y2="193.60" stroke="#1a1a1a" stroke-width="1"/>
<text x="204.60" y="285.60" font-size="8.7" text-anchor="end">0</text>
<text x="204.60" y="256.40" font-size="8.7" text-anchor="end">2</text>
<text x="204.60" y="230.30" font-size="8.7" text-anchor="end">4</text>
<text x="204.60" y="202.90" font-size="8.7" text-anchor="end">6</text>
<text x="267.30" y="196.70" font-size="8.7" text-anchor="start">1.7</text>
<text x="267.30" y="228.40" font-size="8.7" text-anchor="start">1.6</text>
<text x="267.30" y="260.10" font-size="8.7" text-anchor="start">1.5</text>
<text x="214.40" y="295.70" font-size="8.7" text-anchor="end">10</text>
<text x="214.70" y="291.50" font-size="5.8" text-anchor="start">−3</text>
<text x="238.50" y="295.70" font-size="8.7" text-anchor="end">10</text>
<text x="238.80" y="291.50" font-size="5.8" text-anchor="start">−1</text>
<text x="262.60" y="295.70" font-size="8.7" text-anchor="end">10</text>
<text x="262.90" y="291.50" font-size="5.8" text-anchor="start">1</text>
<text x="236.70" y="307.50" font-size="8.7" text-anchor="middle">Time (s)</text>
<circle cx="188.80" cy="288.60" r="3.5" stroke="#222" stroke-width="0.9" fill="none"/>
<text x="192.00" y="277.00" font-size="8.7" text-anchor="start" transform="rotate(-90 192.00 277.00)">Abs. at 495 nm (x10<tspan font-size="5.8" dy="-3">−2</tspan><tspan dy="3">)</tspan></text>
<polygon points="288.50,184.57 285.20,190.29 291.80,190.29" fill="none" stroke="#e04848" stroke-width="0.9"/>
<text x="285.90" y="196.30" font-size="8.7" text-anchor="start" transform="rotate(90 285.90 196.30)">Abs. at 270 nm (x10<tspan font-size="5.8" dy="-3">−1</tspan><tspan dy="3">)</tspan></text>
<text x="306.70" y="175.70" font-size="14" text-anchor="start" font-weight="bold">h</text>
<line x1="342.75" y1="272.80" x2="480.00" y2="272.80" stroke="#777" stroke-width="1"/>
<polyline points="342.75,208.00 342.92,208.94 343.16,210.30 343.44,211.88 343.74,213.48 344.04,214.92 344.30,216.00 344.52,216.80 344.71,217.49 344.90,218.01 345.09,218.30 345.32,218.32 345.60,218.00 345.93,217.23 346.30,216.02 346.69,214.54 347.11,212.92 347.55,211.33 348.00,209.90 348.47,208.57 348.98,207.20 349.51,205.85 350.03,204.58 350.53,203.44 351.00,202.50 351.43,201.74 351.83,201.10 352.21,200.60 352.57,200.24 352.94,200.04 353.30,200.00 353.67,200.11 354.03,200.37 354.39,200.78 354.74,201.35 355.08,202.09 355.40,203.00 355.70,203.99 355.97,205.04 356.24,206.25 356.49,207.74 356.74,209.62 357.00,212.00 357.26,215.07 357.51,218.79 357.77,222.89 358.02,227.13 358.26,231.25 358.50,235.00 358.73,238.50 358.94,241.99 359.16,245.35 359.37,248.49 359.58,251.31 359.80,253.70 360.03,255.61 360.25,257.12 360.48,258.31 360.71,259.24 360.95,260.02 361.20,260.70 361.47,261.23 361.78,261.51 362.09,261.64 362.38,261.66 362.62,261.66 362.80,261.70 364.89,261.91 366.25,262.02 367.61,262.13 368.97,262.24 370.33,262.33 371.70,262.43 373.06,262.51 374.42,262.60 375.78,262.70 377.14,262.81 378.51,262.93 379.87,263.07 381.23,263.23 382.59,263.40 383.95,263.57 385.32,263.75 386.68,263.92 388.04,264.09 389.40,264.25 390.76,264.41 392.13,264.55 393.49,264.70 394.85,264.84 396.21,264.98 397.57,265.12 398.94,265.26 400.30,265.40 401.66,265.55 403.02,265.69 404.38,265.84 405.75,265.99 407.11,266.14 408.47,266.29 409.83,266.45 411.19,266.62 412.56,266.78 413.92,266.95 415.28,267.13 416.64,267.30 418.00,267.48 419.37,267.67 420.73,267.85 422.09,268.04 423.45,268.22 424.81,268.40 426.18,268.58 427.54,268.75 428.90,268.92 430.26,269.08 431.62,269.24 432.99,269.39 434.35,269.53 435.71,269.67 437.07,269.80 438.43,269.93 439.80,270.05 441.16,270.18 442.52,270.30 443.88,270.43 445.24,270.56 446.61,270.69 447.97,270.83 449.33,270.98 450.69,271.13 452.05,271.29 453.42,271.45 454.78,271.62 456.14,271.80 457.50,271.99 458.86,272.19 460.23,272.41 461.59,272.65 462.95,272.81 464.31,272.81 465.67,272.80 467.04,272.80 468.40,272.80 469.76,272.80 471.12,272.80 472.48,272.80 473.85,272.80 475.21,272.80 476.57,272.80 477.93,272.80 479.29,272.80" fill="none" stroke="#e06a3a" stroke-width="0.85" stroke-linejoin="round"/>
<polyline points="342.75,208.00 342.92,208.94 343.16,210.30 343.44,211.88 343.74,213.48 344.04,214.92 344.30,216.00 344.52,216.80 344.71,217.49 344.90,218.02 345.09,218.32 345.32,218.33 345.60,218.00 345.93,217.20 346.30,215.97 346.69,214.44 347.11,212.78 347.55,211.14 348.00,209.68 348.47,208.30 348.98,206.88 349.51,205.47 350.03,204.15 350.53,202.97 351.00,202.00 351.43,201.22 351.83,200.58 352.21,200.08 352.57,199.73 352.94,199.54 353.30,199.50 353.67,199.61 354.03,199.87 354.39,200.28 354.74,200.85 355.08,201.59 355.40,202.50 355.70,203.49 355.97,204.54 356.24,205.75 356.49,207.24 356.74,209.12 357.00,211.50 357.26,214.57 357.51,218.29 357.77,222.39 358.02,226.63 358.26,230.75 358.50,234.50 358.73,238.00 358.94,241.49 359.16,244.85 359.37,247.99 359.58,250.81 359.80,253.20 360.03,255.11 360.25,256.62 360.48,257.81 360.71,258.74 360.95,259.52 361.20,260.20 361.47,260.73 361.78,261.01 362.09,261.14 362.38,261.16 362.62,261.16 362.80,261.20 364.89,261.37 366.25,261.47 367.61,261.54 368.97,261.59 370.33,261.61 371.70,261.62 373.06,261.61 374.42,261.61 375.78,261.63 377.14,261.69 378.51,261.80 379.87,261.97 381.23,262.18 382.59,262.44 383.95,262.72 385.32,263.00 386.68,263.27 388.04,263.52 389.40,263.75 390.76,263.95 392.13,264.14 393.49,264.30 394.85,264.46 396.21,264.61 397.57,264.75 398.94,264.89 400.30,265.03 401.66,265.16 403.02,265.29 404.38,265.42 405.75,265.54 407.11,265.65 408.47,265.76 409.83,265.85 411.19,265.94 412.56,266.02 413.92,266.09 415.28,266.15 416.64,266.21 418.00,266.25 419.37,266.29 420.73,266.33 422.09,266.38 423.45,266.43 424.81,266.49 426.18,266.56 427.54,266.65 428.90,266.76 430.26,266.89 431.62,267.04 432.99,267.22 434.35,267.42 435.71,267.64 437.07,267.88 438.43,268.14 439.80,268.41 441.16,268.69 442.52,268.97 443.88,269.26 445.24,269.54 446.61,269.82 447.97,270.09 449.33,270.36 450.69,270.62 452.05,270.87 453.42,271.12 454.78,271.36 456.14,271.60 457.50,271.83 458.86,272.08 460.23,272.32 461.59,272.60 462.95,272.77 464.31,272.78 465.67,272.79 467.04,272.79 468.40,272.79 469.76,272.80 471.12,272.80 472.48,272.80 473.85,272.80 475.21,272.80 476.57,272.80 477.93,272.80 479.29,272.80" fill="none" stroke="#e8a040" stroke-width="0.85" stroke-linejoin="round"/>
<polyline points="342.75,207.50 342.92,208.38 343.16,209.65 343.44,211.12 343.74,212.63 344.04,213.98 344.30,215.00 344.52,215.77 344.71,216.45 344.90,216.97 345.09,217.29 345.32,217.31 345.60,217.00 345.93,216.23 346.30,215.02 346.69,213.54 347.11,211.92 347.55,210.33 348.00,208.90 348.47,207.57 348.98,206.20 349.51,204.85 350.03,203.58 350.53,202.44 351.00,201.50 351.43,200.74 351.83,200.10 352.21,199.60 352.57,199.24 352.94,199.04 353.30,199.00 353.67,199.11 354.03,199.37 354.39,199.78 354.74,200.35 355.08,201.09 355.40,202.00 355.70,202.99 355.97,204.04 356.24,205.25 356.49,206.74 356.74,208.62 357.00,211.00 357.26,214.07 357.51,217.79 357.77,221.89 358.02,226.13 358.26,230.25 358.50,234.00 358.73,237.51 358.94,241.01 359.16,244.40 359.37,247.56 359.58,250.40 359.80,252.80 360.03,254.72 360.25,256.23 360.48,257.41 360.71,258.35 360.95,259.12 361.20,259.80 361.47,260.33 361.78,260.61 362.09,260.74 362.38,260.76 362.62,260.76 362.80,260.80 364.89,260.93 366.25,261.00 367.61,261.02 368.97,260.99 370.33,260.92 371.70,260.80 373.06,260.67 374.42,260.54 375.78,260.46 377.14,260.45 378.51,260.55 379.87,260.75 381.23,261.06 382.59,261.44 383.95,261.87 385.32,262.30 386.68,262.71 388.04,263.09 389.40,263.41 390.76,263.69 392.13,263.93 393.49,264.13 394.85,264.31 396.21,264.47 397.57,264.62 398.94,264.75 400.30,264.88 401.66,264.99 403.02,265.10 404.38,265.18 405.75,265.25 407.11,265.29 408.47,265.30 409.83,265.29 411.19,265.24 412.56,265.17 413.92,265.05 415.28,264.91 416.64,264.73 418.00,264.53 419.37,264.32 420.73,264.10 422.09,263.89 423.45,263.69 424.81,263.52 426.18,263.40 427.54,263.33 428.90,263.33 430.26,263.40 431.62,263.54 432.99,263.77 434.35,264.07 435.71,264.43 437.07,264.86 438.43,265.34 439.80,265.86 441.16,266.40 442.52,266.95 443.88,267.50 445.24,268.05 446.61,268.57 447.97,269.07 449.33,269.54 450.69,269.97 452.05,270.38 453.42,270.75 454.78,271.09 456.14,271.41 457.50,271.71 458.86,272.00 460.23,272.27 461.59,272.54 462.95,272.71 464.31,272.74 465.67,272.76 467.04,272.77 468.40,272.78 469.76,272.79 471.12,272.79 472.48,272.79 473.85,272.80 475.21,272.80 476.57,272.80 477.93,272.80 479.29,272.80" fill="none" stroke="#b9c84a" stroke-width="0.85" stroke-linejoin="round"/>
<polyline points="342.75,206.50 342.92,207.14 343.16,208.06 343.44,209.12 343.74,210.22 344.04,211.22 344.30,212.00 344.52,212.64 344.71,213.28 344.90,213.81 345.09,214.16 345.32,214.25 345.60,214.00 345.93,213.30 346.30,212.19 346.69,210.82 347.11,209.34 347.55,207.87 348.00,206.57 348.47,205.38 348.98,204.17 349.51,202.98 350.03,201.86 350.53,200.85 351.00,200.00 351.43,199.28 351.83,198.66 352.21,198.15 352.57,197.77 352.94,197.55 353.30,197.50 353.67,197.61 354.03,197.87 354.39,198.28 354.74,198.85 355.08,199.59 355.40,200.50 355.70,201.49 355.97,202.54 356.24,203.75 356.49,205.24 356.74,207.12 357.00,209.50 357.26,212.56 357.51,216.24 357.77,220.32 358.02,224.54 358.26,228.68 358.50,232.50 358.73,236.15 358.94,239.84 359.16,243.45 359.37,246.84 359.58,249.87 359.80,252.40 360.03,254.38 360.25,255.91 360.48,257.08 360.71,257.99 360.95,258.73 361.20,259.40 361.47,259.93 361.78,260.21 362.09,260.34 362.38,260.36 362.62,260.36 362.80,260.40 364.89,260.43 366.25,260.42 367.61,260.33 368.97,260.14 370.33,259.86 371.70,259.49 373.06,259.09 374.42,258.70 375.78,258.39 377.14,258.25 378.51,258.30 379.87,258.57 381.23,259.04 382.59,259.67 383.95,260.38 385.32,261.11 386.68,261.80 388.04,262.41 389.40,262.92 390.76,263.33 392.13,263.66 393.49,263.92 394.85,264.13 396.21,264.31 397.57,264.46 398.94,264.58 400.30,264.68 401.66,264.76 403.02,264.81 404.38,264.82 405.75,264.79 407.11,264.70 408.47,264.56 409.83,264.35 411.19,264.07 412.56,263.72 413.92,263.29 415.28,262.79 416.64,262.22 418.00,261.60 419.37,260.95 420.73,260.28 422.09,259.63 423.45,259.01 424.81,258.45 426.18,257.99 427.54,257.66 428.90,257.46 430.26,257.42 431.62,257.55 432.99,257.85 434.35,258.31 435.71,258.92 437.07,259.66 438.43,260.51 439.80,261.44 441.16,262.43 442.52,263.43 443.88,264.44 445.24,265.42 446.61,266.36 447.97,267.23 449.33,268.04 450.69,268.78 452.05,269.44 453.42,270.03 454.78,270.56 456.14,271.02 457.50,271.43 458.86,271.79 460.23,272.12 461.59,272.43 462.95,272.61 464.31,272.67 465.67,272.71 467.04,272.74 468.40,272.76 469.76,272.77 471.12,272.78 472.48,272.79 473.85,272.79 475.21,272.80 476.57,272.80 477.93,272.80 479.29,272.80" fill="none" stroke="#5cb05c" stroke-width="0.85" stroke-linejoin="round"/>
<polyline points="342.75,205.50 342.92,206.02 343.16,206.76 343.44,207.62 343.74,208.52 344.04,209.34 344.30,210.00 344.52,210.58 344.71,211.19 344.90,211.73 345.09,212.11 345.32,212.23 345.60,212.00 345.93,211.32 346.30,210.25 346.69,208.92 347.11,207.47 347.55,206.05 348.00,204.80 348.47,203.65 348.98,202.49 349.51,201.36 350.03,200.29 350.53,199.32 351.00,198.50 351.43,197.80 351.83,197.18 352.21,196.67 352.57,196.29 352.94,196.05 353.30,196.00 353.67,196.11 354.03,196.37 354.39,196.78 354.74,197.35 355.08,198.09 355.40,199.00 355.70,199.99 355.97,201.04 356.24,202.25 356.49,203.74 356.74,205.62 357.00,208.00 357.26,211.04 357.51,214.70 357.77,218.74 358.02,222.95 358.26,227.11 358.50,231.00 358.73,234.80 358.94,238.73 359.16,242.60 359.37,246.25 359.58,249.51 359.80,252.20 360.03,254.26 360.25,255.81 360.48,256.96 360.71,257.84 360.95,258.54 361.20,259.20 361.47,259.73 361.78,260.01 362.09,260.14 362.38,260.16 362.62,260.16 362.80,260.20 364.89,260.16 366.25,260.09 367.61,259.92 368.97,259.61 370.33,259.17 371.70,258.61 373.06,258.01 374.42,257.42 375.78,256.96 377.14,256.70 378.51,256.72 379.87,257.04 381.23,257.64 382.59,258.45 383.95,259.38 385.32,260.33 386.68,261.23 388.04,262.01 389.40,262.66 390.76,263.17 392.13,263.57 393.49,263.88 394.85,264.13 396.21,264.32 397.57,264.48 398.94,264.61 400.30,264.71 401.66,264.78 403.02,264.81 404.38,264.80 405.75,264.74 407.11,264.63 408.47,264.44 409.83,264.17 411.19,263.82 412.56,263.39 413.92,262.87 415.28,262.26 416.64,261.58 418.00,260.83 419.37,260.05 420.73,259.24 422.09,258.45 423.45,257.71 424.81,257.04 426.18,256.48 427.54,256.05 428.90,255.80 430.26,255.73 431.62,255.85 432.99,256.17 434.35,256.68 435.71,257.36 437.07,258.20 438.43,259.17 439.80,260.22 441.16,261.34 442.52,262.48 443.88,263.63 445.24,264.74 446.61,265.80 447.97,266.79 449.33,267.70 450.69,268.52 452.05,269.26 453.42,269.90 454.78,270.47 456.14,270.97 457.50,271.40 458.86,271.78 460.23,272.11 461.59,272.40 462.95,272.58 464.31,272.65 465.67,272.69 467.04,272.73 468.40,272.75 469.76,272.77 471.12,272.78 472.48,272.79 473.85,272.79 475.21,272.79 476.57,272.80 477.93,272.80 479.29,272.80" fill="none" stroke="#3eb0b0" stroke-width="0.85" stroke-linejoin="round"/>
<polyline points="342.75,205.00 342.92,205.34 343.16,205.81 343.44,206.38 343.74,206.96 344.04,207.52 344.30,208.00 344.52,208.50 344.71,209.07 344.90,209.63 345.09,210.04 345.32,210.20 345.60,210.00 345.93,209.34 346.30,208.29 346.69,207.00 347.11,205.58 347.55,204.20 348.00,202.98 348.47,201.87 348.98,200.75 349.51,199.66 350.03,198.63 350.53,197.70 351.00,196.90 351.43,196.21 351.83,195.60 352.21,195.08 352.57,194.69 352.94,194.46 353.30,194.40 353.67,194.51 354.03,194.77 354.39,195.18 354.74,195.75 355.08,196.49 355.40,197.40 355.70,198.39 355.97,199.44 356.24,200.65 356.49,202.14 356.74,204.02 357.00,206.40 357.26,209.43 357.51,213.04 357.77,217.05 358.02,221.24 358.26,225.43 358.50,229.40 358.73,233.37 358.94,237.54 359.16,241.70 359.37,245.64 359.58,249.14 359.80,252.00 360.03,254.14 360.25,255.71 360.48,256.85 360.71,257.69 360.95,258.36 361.20,259.00 361.47,259.53 361.78,259.81 362.09,259.94 362.38,259.96 362.62,259.96 362.80,260.00 364.89,259.88 366.25,259.76 367.61,259.51 368.97,259.09 370.33,258.50 371.70,257.78 373.06,256.99 374.42,256.23 375.78,255.62 377.14,255.26 378.51,255.25 379.87,255.61 381.23,256.32 382.59,257.28 383.95,258.39 385.32,259.53 386.68,260.60 388.04,261.53 389.40,262.29 390.76,262.89 392.13,263.35 393.49,263.69 394.85,263.96 396.21,264.16 397.57,264.32 398.94,264.45 400.30,264.54 401.66,264.60 403.02,264.61 404.38,264.58 405.75,264.49 407.11,264.33 408.47,264.08 409.83,263.75 411.19,263.33 412.56,262.80 413.92,262.17 415.28,261.45 416.64,260.63 418.00,259.75 419.37,258.82 420.73,257.87 422.09,256.93 423.45,256.04 424.81,255.24 426.18,254.57 427.54,254.06 428.90,253.74 430.26,253.63 431.62,253.75 432.99,254.10 434.35,254.66 435.71,255.43 437.07,256.37 438.43,257.46 439.80,258.66 441.16,259.93 442.52,261.23 443.88,262.52 445.24,263.78 446.61,264.98 447.97,266.10 449.33,267.13 450.69,268.06 452.05,268.88 453.42,269.61 454.78,270.24 456.14,270.79 457.50,271.27 458.86,271.68 460.23,272.04 461.59,272.35 462.95,272.55 464.31,272.62 465.67,272.68 467.04,272.72 468.40,272.74 469.76,272.76 471.12,272.78 472.48,272.79 473.85,272.79 475.21,272.79 476.57,272.80 477.93,272.80 479.29,272.80" fill="none" stroke="#3a7cc4" stroke-width="0.85" stroke-linejoin="round"/>
<polyline points="342.75,221.20 342.92,221.62 343.16,222.22 343.44,222.92 343.74,223.66 344.04,224.34 344.30,224.90 344.52,225.46 344.71,226.09 344.90,226.68 345.09,227.09 345.32,227.21 345.60,226.90 345.93,226.06 346.30,224.76 346.69,223.17 347.11,221.44 347.55,219.72 348.00,218.17 348.47,216.71 348.98,215.20 349.51,213.70 350.03,212.28 350.53,211.03 351.00,210.00 351.43,209.19 351.83,208.54 352.21,208.05 352.57,207.72 352.94,207.53 353.30,207.50 353.67,207.61 354.03,207.87 354.39,208.28 354.74,208.85 355.08,209.59 355.40,210.50 355.70,211.49 355.97,212.54 356.24,213.75 356.49,215.24 356.74,217.12 357.00,219.50 357.26,222.68 357.51,226.62 357.77,230.95 358.02,235.29 358.26,239.27 358.50,242.50 358.73,244.93 358.94,246.85 359.16,248.40 359.37,249.73 359.58,250.98 359.80,252.30 360.03,253.70 360.25,255.06 360.48,256.35 360.71,257.51 360.95,258.51 361.20,259.30 361.47,259.83 361.78,260.11 362.09,260.24 362.38,260.26 362.62,260.26 362.80,260.30 364.89,260.32 366.25,260.29 367.61,260.18 368.97,259.96 370.33,259.63 371.70,259.20 373.06,258.74 374.42,258.29 375.78,257.94 377.14,257.76 378.51,257.80 379.87,258.10 381.23,258.62 382.59,259.31 383.95,260.10 385.32,260.91 386.68,261.67 388.04,262.34 389.40,262.90 390.76,263.35 392.13,263.70 393.49,263.98 394.85,264.20 396.21,264.37 397.57,264.51 398.94,264.62 400.30,264.69 401.66,264.71 403.02,264.69 404.38,264.61 405.75,264.45 407.11,264.19 408.47,263.83 409.83,263.35 411.19,262.74 412.56,261.97 413.92,261.06 415.28,260.00 416.64,258.79 418.00,257.46 419.37,256.03 420.73,254.54 422.09,253.03 423.45,251.56 424.81,250.17 426.18,248.93 427.54,247.90 428.90,247.11 430.26,246.62 431.62,246.46 432.99,246.63 434.35,247.14 435.71,247.97 437.07,249.09 438.43,250.47 439.80,252.05 441.16,253.77 442.52,255.59 443.88,257.44 445.24,259.27 446.61,261.04 447.97,262.71 449.33,264.26 450.69,265.67 452.05,266.92 453.42,268.03 454.78,268.98 456.14,269.81 457.50,270.51 458.86,271.10 460.23,271.60 461.59,272.03 462.95,272.31 464.31,272.45 465.67,272.56 467.04,272.63 468.40,272.69 469.76,272.73 471.12,272.75 472.48,272.77 473.85,272.78 475.21,272.79 476.57,272.79 477.93,272.80 479.29,272.80" fill="none" stroke="#1a1a1a" stroke-width="0.85" stroke-linejoin="round"/>
<rect x="342.75" y="184.75" width="137.25" height="98.00" stroke="#1a1a1a" stroke-width="1" fill="none"/>
<line x1="360.80" y1="282.75" x2="360.80" y2="277.75" stroke="#1a1a1a" stroke-width="1"/>
<line x1="360.80" y1="184.75" x2="360.80" y2="189.75" stroke="#1a1a1a" stroke-width="1"/>
<line x1="394.85" y1="282.75" x2="394.85" y2="277.75" stroke="#1a1a1a" stroke-width="1"/>
<line x1="394.85" y1="184.75" x2="394.85" y2="189.75" stroke="#1a1a1a" stroke-width="1"/>
<line x1="428.90" y1="282.75" x2="428.90" y2="277.75" stroke="#1a1a1a" stroke-width="1"/>
<line x1="428.90" y1="184.75" x2="428.90" y2="189.75" stroke="#1a1a1a" stroke-width="1"/>
<line x1="462.95" y1="282.75" x2="462.95" y2="277.75" stroke="#1a1a1a" stroke-width="1"/>
<line x1="462.95" y1="184.75" x2="462.95" y2="189.75" stroke="#1a1a1a" stroke-width="1"/>
<line x1="342.75" y1="272.80" x2="347.75" y2="272.80" stroke="#1a1a1a" stroke-width="1"/>
<line x1="480.00" y1="272.80" x2="475.00" y2="272.80" stroke="#1a1a1a" stroke-width="1"/>
<line x1="342.75" y1="239.30" x2="347.75" y2="239.30" stroke="#1a1a1a" stroke-width="1"/>
<line x1="480.00" y1="239.30" x2="475.00" y2="239.30" stroke="#1a1a1a" stroke-width="1"/>
<line x1="342.75" y1="205.80" x2="347.75" y2="205.80" stroke="#1a1a1a" stroke-width="1"/>
<line x1="480.00" y1="205.80" x2="475.00" y2="205.80" stroke="#1a1a1a" stroke-width="1"/>
<text x="360.80" y="293.50" font-size="8.7" text-anchor="middle">300</text>
<text x="394.85" y="293.50" font-size="8.7" text-anchor="middle">400</text>
<text x="428.90" y="293.50" font-size="8.7" text-anchor="middle">500</text>
<text x="462.95" y="293.50" font-size="8.7" text-anchor="middle">600</text>
<text x="338.50" y="275.90" font-size="8.7" text-anchor="end">0.00</text>
<text x="338.50" y="242.40" font-size="8.7" text-anchor="end">0.05</text>
<text x="338.50" y="208.90" font-size="8.7" text-anchor="end">0.10</text>
<text x="411.50" y="307.00" font-size="8.7" text-anchor="middle">Wavelength (nm)</text>
<text x="315.30" y="232.80" font-size="8.7" text-anchor="middle" transform="rotate(-90 315.30 232.80)">Absorbance</text>
<text x="412.30" y="246.70" font-size="6.2" text-anchor="middle">6</text>
<line x1="414.75" y1="246.30" x2="428.50" y2="253.20" stroke="#111" stroke-width="0.6"/>
<text x="405.50" y="251.50" font-size="6.2" text-anchor="middle">5</text>
<line x1="407.90" y1="251.00" x2="423.30" y2="257.50" stroke="#111" stroke-width="0.6"/>
<text x="401.00" y="259.50" font-size="6.2" text-anchor="middle">4</text>
<line x1="403.60" y1="257.50" x2="419.00" y2="264.40" stroke="#111" stroke-width="0.6"/>
<text x="455.60" y="250.60" font-size="6.2" text-anchor="middle">Dark</text>
<line x1="450.80" y1="250.60" x2="444.00" y2="256.10" stroke="#111" stroke-width="0.6"/>
<text x="455.80" y="259.20" font-size="6.2" text-anchor="middle">3</text>
<line x1="454.30" y1="257.50" x2="430.20" y2="267.00" stroke="#111" stroke-width="0.6"/>
<text x="461.30" y="263.50" font-size="6.2" text-anchor="middle">2</text>
<line x1="459.40" y1="261.80" x2="435.40" y2="270.40" stroke="#111" stroke-width="0.6"/>
<text x="465.50" y="270.40" font-size="6.2" text-anchor="middle">1</text>
<line x1="463.70" y1="267.80" x2="443.10" y2="271.20" stroke="#111" stroke-width="0.6"/>
<rect x="412.10" y="185.80" width="60.10" height="38.40" fill="#fff"/>
<rect x="412.10" y="185.80" width="60.10" height="38.40" stroke="#222" stroke-width="0.8" fill="none"/>
<line x1="412.10" y1="219.90" x2="414.60" y2="219.90" stroke="#222" stroke-width="0.7"/>
<line x1="472.20" y1="219.90" x2="469.70" y2="219.90" stroke="#222" stroke-width="0.7"/>
<text x="409.60" y="222.10" font-size="6" text-anchor="end">0</text>
<line x1="412.10" y1="210.20" x2="414.60" y2="210.20" stroke="#222" stroke-width="0.7"/>
<line x1="472.20" y1="210.20" x2="469.70" y2="210.20" stroke="#222" stroke-width="0.7"/>
<text x="409.60" y="212.40" font-size="6" text-anchor="end">1</text>
<line x1="412.10" y1="200.50" x2="414.60" y2="200.50" stroke="#222" stroke-width="0.7"/>
<line x1="472.20" y1="200.50" x2="469.70" y2="200.50" stroke="#222" stroke-width="0.7"/>
<text x="409.60" y="202.70" font-size="6" text-anchor="end">2</text>
<line x1="412.10" y1="190.80" x2="414.60" y2="190.80" stroke="#222" stroke-width="0.7"/>
<line x1="472.20" y1="190.80" x2="469.70" y2="190.80" stroke="#222" stroke-width="0.7"/>
<text x="409.60" y="193.00" font-size="6" text-anchor="end">3</text>
<line x1="427.25" y1="224.20" x2="427.25" y2="221.70" stroke="#222" stroke-width="0.7"/>
<line x1="427.25" y1="185.80" x2="427.25" y2="188.30" stroke="#222" stroke-width="0.7"/>
<line x1="442.00" y1="224.20" x2="442.00" y2="221.70" stroke="#222" stroke-width="0.7"/>
<line x1="442.00" y1="185.80" x2="442.00" y2="188.30" stroke="#222" stroke-width="0.7"/>
<line x1="456.75" y1="224.20" x2="456.75" y2="221.70" stroke="#222" stroke-width="0.7"/>
<line x1="456.75" y1="185.80" x2="456.75" y2="188.30" stroke="#222" stroke-width="0.7"/>
<line x1="471.50" y1="224.20" x2="471.50" y2="221.70" stroke="#222" stroke-width="0.7"/>
<line x1="471.50" y1="185.80" x2="471.50" y2="188.30" stroke="#222" stroke-width="0.7"/>
<text x="414.50" y="232.60" font-size="5.6" text-anchor="end">10</text>
<text x="414.70" y="229.80" font-size="3.8" text-anchor="start">−1</text>
<text x="444.00" y="232.60" font-size="5.6" text-anchor="end">10</text>
<text x="444.20" y="229.80" font-size="3.8" text-anchor="start">1</text>
<text x="473.50" y="232.60" font-size="5.6" text-anchor="end">10</text>
<text x="473.70" y="229.80" font-size="3.8" text-anchor="start">3</text>
<text x="442.60" y="240.60" font-size="5.8" text-anchor="middle">Time (s)</text>
<polyline points="412.10,217.50 413.39,217.50 415.18,217.49 417.31,217.49 419.64,217.48 422.03,217.47 424.31,217.46 426.35,217.43 428.00,217.40 429.27,217.36 430.32,217.31 431.18,217.25 431.92,217.19 432.57,217.13 433.19,217.06 433.81,216.98 434.50,216.90 435.23,216.82 435.95,216.73 436.65,216.64 437.33,216.54 437.98,216.44 438.60,216.33 439.17,216.22 439.70,216.10 440.16,215.98 440.55,215.86 440.90,215.74 441.21,215.61 441.50,215.48 441.81,215.33 442.13,215.17 442.50,215.00 442.90,214.81 443.33,214.61 443.76,214.40 444.21,214.18 444.66,213.95 445.11,213.71 445.56,213.46 446.00,213.20 446.44,212.93 446.89,212.65 447.34,212.36 447.79,212.06 448.24,211.75 448.67,211.44 449.10,211.12 449.50,210.80 449.89,210.48 450.26,210.15 450.63,209.82 450.98,209.48 451.32,209.14 451.66,208.80 451.98,208.45 452.30,208.10 452.61,207.75 452.90,207.39 453.19,207.03 453.46,206.67 453.73,206.30 453.99,205.94 454.25,205.57 454.50,205.20 454.74,204.83 454.98,204.45 455.21,204.06 455.43,203.67 455.65,203.29 455.87,202.92 456.08,202.55 456.30,202.20 456.52,201.86 456.74,201.53 456.96,201.20 457.18,200.88 457.39,200.57 457.60,200.27 457.80,199.98 458.00,199.70 458.19,199.43 458.36,199.19 458.53,198.95 458.70,198.72 458.87,198.49 459.04,198.27 459.21,198.04 459.40,197.80 459.60,197.55 459.81,197.30 460.02,197.04 460.24,196.78 460.46,196.53 460.68,196.27 460.90,196.03 461.10,195.80 461.30,195.58 461.48,195.37 461.67,195.17 461.85,194.97 462.03,194.78 462.22,194.58 462.40,194.39 462.60,194.20 462.80,194.00 463.00,193.81 463.20,193.61 463.41,193.42 463.62,193.23 463.84,193.04 464.06,192.87 464.30,192.70 464.55,192.54 464.81,192.39 465.08,192.24 465.35,192.09 465.63,191.96 465.92,191.83 466.21,191.71 466.50,191.60 466.79,191.50 467.09,191.41 467.38,191.33 467.69,191.26 468.00,191.19 468.32,191.12 468.65,191.06 469.00,191.00 469.39,190.94 469.83,190.88 470.29,190.82 470.76,190.76 471.20,190.71 471.61,190.67 471.95,190.63 472.20,190.60" fill="none" stroke="#444" stroke-width="0.8" stroke-linejoin="round"/>
<circle cx="428.70" cy="217.20" r="1.75" stroke="#111" stroke-width="0.75" fill="none"/>
<circle cx="434.50" cy="216.80" r="1.75" stroke="#111" stroke-width="0.75" fill="none"/>
<circle cx="439.70" cy="216.10" r="1.75" stroke="#111" stroke-width="0.75" fill="none"/>
<circle cx="442.50" cy="214.90" r="1.75" stroke="#111" stroke-width="0.75" fill="none"/>
<circle cx="446.00" cy="213.20" r="1.75" stroke="#111" stroke-width="0.75" fill="none"/>
<circle cx="449.50" cy="210.80" r="1.75" stroke="#111" stroke-width="0.75" fill="none"/>
<circle cx="452.30" cy="208.30" r="1.75" stroke="#111" stroke-width="0.75" fill="none"/>
<circle cx="454.50" cy="205.20" r="1.75" stroke="#111" stroke-width="0.75" fill="none"/>
<circle cx="456.30" cy="202.00" r="1.75" stroke="#111" stroke-width="0.75" fill="none"/>
<circle cx="458.00" cy="199.60" r="1.75" stroke="#111" stroke-width="0.75" fill="none"/>
<circle cx="459.40" cy="197.80" r="1.75" stroke="#111" stroke-width="0.75" fill="none"/>
<circle cx="461.10" cy="195.70" r="1.75" stroke="#111" stroke-width="0.75" fill="none"/>
<circle cx="462.60" cy="194.00" r="1.75" stroke="#111" stroke-width="0.75" fill="none"/>
<circle cx="464.30" cy="192.60" r="1.75" stroke="#111" stroke-width="0.75" fill="none"/>
<circle cx="393.30" cy="218.90" r="1.75" stroke="#222" stroke-width="0.7" fill="none"/>
<text x="395.20" y="214.60" font-size="6.0" text-anchor="start" transform="rotate(-90 395.20 214.60)">Abs. at</text>
<text x="401.30" y="204.40" font-size="5.8" text-anchor="middle" transform="rotate(-90 401.30 204.40)">510 nm (x10<tspan font-size="4.0" dy="-2.2">−3</tspan><tspan dy="2.2">)</tspan></text>
<text x="494.40" y="175.70" font-size="14" text-anchor="start" font-weight="bold">i</text>
<rect x="528.40" y="180.70" width="13.70" height="2.40" fill="#000"/>
<rect x="544.40" y="180.70" width="28.50" height="2.40" fill="#000"/>
<text x="535.80" y="178.40" font-size="8.7" text-anchor="middle" font-style="italic">Syn</text>
<text x="559.80" y="178.40" font-size="8.7" text-anchor="middle" font-style="italic">Anti</text>
<polyline points="506.50,226.30 506.75,226.30 507.00,226.30 507.25,226.30 507.50,226.30 507.75,226.30 508.00,226.30 508.25,226.30 508.50,226.30 508.75,226.30 509.00,226.30 509.25,226.30 509.50,226.30 509.75,226.30 510.00,226.30 510.25,226.30 510.50,226.30 510.75,226.30 511.00,226.30 511.25,226.30 511.50,226.30 511.75,226.30 512.00,226.30 512.25,226.30 512.50,226.30 512.75,226.30 513.00,226.30 513.25,226.30 513.75,217.50 514.35,229.50 514.70,226.30 514.75,226.30 515.00,226.30 515.25,226.30 515.50,226.30 515.75,226.30 516.00,226.30 516.25,226.30 516.50,226.30 516.75,226.30 517.00,226.30 517.25,226.30 517.50,226.30 517.75,226.30 518.00,226.30 518.25,226.30 518.50,226.30 518.75,226.30 519.00,226.30 519.25,226.30 519.50,226.30 519.75,226.30 520.00,226.30 520.25,226.30 520.50,226.30 520.75,226.30 521.00,226.30 521.25,226.30 521.50,226.30 521.75,226.30 522.00,226.30 522.25,226.30 522.50,226.30 522.75,226.30 523.00,226.30 523.25,226.30 523.50,226.30 523.75,226.30 524.00,226.30 524.25,226.30 524.50,226.30 524.75,226.30 525.00,226.30 525.25,226.30 525.50,226.30 525.75,226.30 526.00,226.30 526.25,226.30 526.50,226.30 526.75,226.30 527.00,226.30 527.25,226.30 527.50,226.30 527.75,226.30 528.00,226.30 528.25,226.30 528.50,226.30 528.75,226.30 529.00,226.30 529.25,226.30 529.50,226.30 529.75,226.30 530.00,226.30 530.25,226.30 530.50,226.30 530.75,226.30 531.00,226.30 531.25,226.30 531.50,226.30 531.75,226.30 532.00,226.30 532.25,226.30 532.50,226.29 532.75,225.82 533.00,220.01 533.25,202.22 533.40,196.30 533.50,199.09 533.75,217.23 534.00,225.41 534.25,226.27 534.50,226.30 534.75,226.30 535.00,226.30 535.25,226.30 535.50,226.30 535.75,226.30 536.00,226.30 536.25,226.30 536.50,226.30 536.75,226.30 537.00,226.30 537.25,226.30 537.50,226.30 537.75,226.30 538.00,226.30 538.25,226.30 538.50,226.30 538.75,226.29 539.00,226.23 539.25,226.01 539.50,225.64 539.70,225.50 539.75,225.51 540.00,225.79 540.25,226.12 540.50,226.27 540.75,226.30 541.00,226.30 541.25,226.30 541.50,226.30 541.75,226.30 542.00,226.30 542.25,226.30 542.50,226.30 542.75,226.30 543.00,226.30 543.25,226.30 543.50,226.30 543.75,226.30 544.00,226.30 544.25,226.30 544.50,226.30 544.75,226.30 545.00,226.30 545.25,226.29 545.50,226.25 545.75,226.08 546.00,225.81 546.20,225.70 546.25,225.71 546.50,225.92 546.75,226.17 547.00,226.27 547.25,226.30 547.50,226.30 547.75,226.30 548.00,226.30 548.25,226.30 548.50,226.30 548.75,226.30 549.00,226.30 549.25,226.30 549.50,226.30 549.75,226.30 550.00,226.30 550.25,226.30 550.50,226.30 550.75,226.30 551.00,226.30 551.25,226.30 551.50,226.30 551.75,226.30 552.00,226.30 552.25,226.30 552.50,226.30 552.75,226.30 553.00,226.30 553.25,226.30 553.50,226.30 553.75,226.30 554.00,226.30 554.25,226.30 554.50,226.30 554.75,226.30 555.00,226.30 555.25,226.30 555.50,226.30 555.75,226.30 556.00,226.30 556.25,226.30 556.50,226.30 556.75,226.30 557.00,226.30 557.25,226.30 557.50,226.30 557.75,226.30 558.00,226.30 558.25,226.30 558.50,226.30 558.75,226.30 559.00,226.30 559.25,226.30 559.50,226.30 559.75,226.30 560.00,226.30 560.25,226.30 560.50,226.30 560.75,226.30 561.00,226.30 561.25,226.30 561.50,226.30 561.75,226.30 562.00,226.30 562.25,226.30 562.50,226.30 562.75,226.30 563.00,226.30 563.25,226.30 563.50,226.30 563.75,226.30 564.00,226.30 564.25,226.30 564.50,226.30 564.75,226.30 565.00,226.30 565.25,226.30 565.50,226.30 565.75,226.30 566.00,226.28 566.25,226.16 566.50,225.70 566.75,224.54 567.00,222.65 567.25,220.95 567.40,220.60 567.50,220.76 567.75,222.24 568.00,224.20 568.25,225.53 568.50,226.10 568.75,226.26 569.00,226.30 569.25,226.30 569.50,226.30 569.75,226.30 570.00,226.30 570.25,226.30 570.50,226.30 570.75,226.30 571.00,226.30 571.25,226.30 571.50,226.30 571.75,226.30 572.00,226.30 572.25,226.30 572.50,226.30 572.75,226.30 573.00,226.30 573.25,226.30 573.50,226.30 573.75,226.30" fill="none" stroke="#111" stroke-width="0.95" stroke-linejoin="round"/>
<polyline points="506.50,239.10 506.75,239.10 507.00,239.10 507.25,239.10 507.50,239.10 507.75,239.10 508.00,239.10 508.25,239.10 508.50,239.10 508.75,239.10 509.00,239.10 509.25,239.10 509.50,239.10 509.75,239.10 510.00,239.10 510.25,239.10 510.50,239.10 510.75,239.10 511.00,239.10 511.25,239.10 511.50,239.10 511.75,239.10 512.00,239.10 512.25,239.10 512.50,239.10 512.75,239.10 513.00,239.10 513.25,239.10 513.75,231.60 514.35,242.25 514.70,239.10 514.75,239.10 515.00,239.10 515.25,239.10 515.50,239.10 515.75,239.10 516.00,239.10 516.25,239.10 516.50,239.10 516.75,239.10 517.00,239.10 517.25,239.10 517.50,239.10 517.75,239.10 518.00,239.10 518.25,239.10 518.50,239.10 518.75,239.10 519.00,239.10 519.25,239.10 519.50,239.10 519.75,239.10 520.00,239.10 520.25,239.10 520.50,239.10 520.75,239.10 521.00,239.10 521.25,239.10 521.50,239.10 521.75,239.10 522.00,239.10 522.25,239.10 522.50,239.10 522.75,239.10 523.00,239.10 523.25,239.10 523.50,239.10 523.75,239.10 524.00,239.10 524.25,239.10 524.50,239.10 524.75,239.10 525.00,239.10 525.25,239.10 525.50,239.10 525.75,239.10 526.00,239.10 526.25,239.10 526.50,239.10 526.75,239.10 527.00,239.10 527.25,239.10 527.50,239.10 527.75,239.10 528.00,239.10 528.25,239.10 528.50,239.10 528.75,239.10 529.00,239.10 529.25,239.09 529.50,238.99 529.75,238.54 530.00,237.50 530.25,236.63 530.30,236.60 530.50,237.05 530.75,238.18 531.00,238.88 531.25,239.07 531.50,239.10 531.75,239.10 532.00,239.10 532.25,239.10 532.50,239.08 532.75,238.86 533.00,237.40 533.25,233.62 533.50,231.00 533.75,233.62 534.00,237.40 534.25,238.86 534.50,239.08 534.75,239.10 535.00,239.10 535.25,239.10 535.50,239.10 535.75,239.10 536.00,239.10 536.25,239.10 536.50,239.10 536.75,239.10 537.00,239.10 537.25,239.10 537.50,239.10 537.75,239.10 538.00,239.10 538.25,239.10 538.50,239.10 538.75,239.06 539.00,238.82 539.25,237.92 539.50,236.47 539.70,235.90 539.75,235.94 540.00,237.05 540.25,238.38 540.50,238.96 540.75,239.09 541.00,239.10 541.25,239.10 541.50,239.10 541.75,239.10 542.00,239.10 542.25,239.10 542.50,239.10 542.75,239.10 543.00,239.10 543.25,239.10 543.50,239.10 543.75,239.10 544.00,239.10 544.25,239.10 544.50,239.10 544.75,239.10 545.00,239.10 545.25,239.09 545.50,238.99 545.75,238.66 546.00,238.12 546.20,237.90 546.25,237.91 546.50,238.33 546.75,238.83 547.00,239.05 547.25,239.09 547.50,239.10 547.75,239.10 548.00,239.10 548.25,239.10 548.50,239.10 548.75,239.10 549.00,239.10 549.25,239.10 549.50,239.10 549.75,239.10 550.00,239.10 550.25,239.10 550.50,239.10 550.75,239.10 551.00,239.10 551.25,239.10 551.50,239.10 551.75,239.10 552.00,239.10 552.25,239.10 552.50,239.10 552.75,239.10 553.00,239.10 553.25,239.10 553.50,239.10 553.75,239.10 554.00,239.10 554.25,239.10 554.50,239.10 554.75,239.10 555.00,239.10 555.25,239.10 555.50,239.10 555.75,239.10 556.00,239.10 556.25,239.10 556.50,239.10 556.75,239.10 557.00,239.10 557.25,239.10 557.50,239.10 557.75,239.10 558.00,239.10 558.25,239.10 558.50,239.10 558.75,239.10 559.00,239.10 559.25,239.10 559.50,239.10 559.75,239.10 560.00,239.10 560.25,239.10 560.50,239.10 560.75,239.10 561.00,239.10 561.25,239.10 561.50,239.10 561.75,239.10 562.00,239.10 562.25,239.10 562.50,239.10 562.75,239.10 563.00,239.10 563.25,239.10 563.50,239.10 563.75,239.10 564.00,239.10 564.25,239.10 564.50,239.10 564.75,239.10 565.00,239.10 565.25,239.10 565.50,239.10 565.75,239.10 566.00,239.09 566.25,239.06 566.50,238.94 566.75,238.64 567.00,238.14 567.25,237.69 567.40,237.60 567.50,237.64 567.75,238.03 568.00,238.55 568.25,238.90 568.50,239.05 568.75,239.09 569.00,239.10 569.25,239.10 569.50,239.10 569.75,239.10 570.00,239.10 570.25,239.10 570.50,239.10 570.75,239.10 571.00,239.10 571.25,239.10 571.50,239.10 571.75,239.10 572.00,239.10 572.25,239.10 572.50,239.10 572.75,239.10 573.00,239.10 573.25,239.10 573.50,239.10 573.75,239.10" fill="none" stroke="#cc3038" stroke-width="0.95" stroke-linejoin="round"/>
<polyline points="506.50,275.60 506.75,275.60 507.00,275.60 507.25,275.60 507.50,275.60 507.75,275.60 508.00,275.60 508.25,275.60 508.50,275.60 508.75,275.60 509.00,275.60 509.25,275.60 509.50,275.60 509.75,275.60 510.00,275.60 510.25,275.60 510.50,275.60 510.75,275.60 511.00,275.60 511.25,275.60 511.50,275.60 511.75,275.60 512.00,275.60 512.25,275.60 512.50,275.60 512.75,275.60 513.00,275.60 513.25,275.60 513.75,268.50 514.35,278.40 514.70,275.60 514.75,275.60 515.00,275.60 515.25,275.60 515.50,275.60 515.75,275.60 516.00,275.60 516.25,275.60 516.50,275.60 516.75,275.60 517.00,275.60 517.25,275.60 517.50,275.60 517.75,275.60 518.00,275.60 518.25,275.60 518.50,275.60 518.75,275.60 519.00,275.60 519.25,275.60 519.50,275.60 519.75,275.60 520.00,275.60 520.25,275.60 520.50,275.60 520.75,275.60 521.00,275.60 521.25,275.60 521.50,275.60 521.75,275.60 522.00,275.60 522.25,275.60 522.50,275.60 522.75,275.60 523.00,275.60 523.25,275.60 523.50,275.60 523.75,275.60 524.00,275.60 524.25,275.60 524.50,275.60 524.75,275.60 525.00,275.60 525.25,275.60 525.50,275.60 525.75,275.60 526.00,275.60 526.25,275.60 526.50,275.60 526.75,275.60 527.00,275.60 527.25,275.60 527.50,275.60 527.75,275.60 528.00,275.60 528.25,275.60 528.50,275.60 528.75,275.60 529.00,275.60 529.25,275.60 529.50,275.60 529.75,275.60 530.00,275.60 530.25,275.60 530.50,275.60 530.75,275.60 531.00,275.60 531.25,275.60 531.50,275.60 531.75,275.60 532.00,275.60 532.25,275.60 532.50,275.60 532.75,275.60 533.00,275.60 533.25,275.60 533.50,275.56 533.75,274.59 534.00,266.96 534.25,249.05 534.40,243.70 534.50,246.20 534.75,263.86 535.00,273.91 535.25,275.51 535.50,275.60 535.75,275.60 536.00,275.60 536.25,275.60 536.50,275.60 536.75,275.60 537.00,275.60 537.25,275.60 537.50,275.60 537.75,275.60 538.00,275.60 538.25,275.60 538.50,275.60 538.75,275.60 539.00,275.60 539.25,275.60 539.50,275.58 539.75,275.48 540.00,275.08 540.25,274.25 540.50,273.49 540.60,273.40 540.75,273.59 541.00,274.44 541.25,275.19 541.50,275.51 541.75,275.59 542.00,275.60 542.25,275.60 542.50,275.60 542.75,275.60 543.00,275.60 543.25,275.60 543.50,275.60 543.75,275.60 544.00,275.60 544.25,275.60 544.50,275.60 544.75,275.60 545.00,275.60 545.25,275.60 545.50,275.60 545.75,275.60 546.00,275.60 546.25,275.60 546.50,275.60 546.75,275.60 547.00,275.60 547.25,275.60 547.50,275.60 547.75,275.57 548.00,275.45 548.25,275.23 548.50,275.10 548.75,275.23 549.00,275.45 549.25,275.57 549.50,275.60 549.75,275.60 550.00,275.60 550.25,275.60 550.50,275.60 550.75,275.60 551.00,275.60 551.25,275.60 551.50,275.60 551.75,275.60 552.00,275.60 552.25,275.60 552.50,275.60 552.75,275.60 553.00,275.60 553.25,275.60 553.50,275.60 553.75,275.60 554.00,275.60 554.25,275.60 554.50,275.60 554.75,275.60 555.00,275.60 555.25,275.60 555.50,275.60 555.75,275.60 556.00,275.60 556.25,275.60 556.50,275.60 556.75,275.60 557.00,275.60 557.25,275.60 557.50,275.60 557.75,275.60 558.00,275.60 558.25,275.60 558.50,275.60 558.75,275.60 559.00,275.60 559.25,275.60 559.50,275.60 559.75,275.60 560.00,275.60 560.25,275.60 560.50,275.60 560.75,275.60 561.00,275.60 561.25,275.60 561.50,275.60 561.75,275.60 562.00,275.60 562.25,275.60 562.50,275.60 562.75,275.60 563.00,275.60 563.25,275.60 563.50,275.60 563.75,275.60 564.00,275.60 564.25,275.60 564.50,275.60 564.75,275.60 565.00,275.60 565.25,275.60 565.50,275.60 565.75,275.60 566.00,275.60 566.25,275.60 566.50,275.60 566.75,275.60 567.00,275.60 567.25,275.60 567.50,275.60 567.75,275.60 568.00,275.60 568.25,275.60 568.50,275.60 568.75,275.59 569.00,275.56 569.25,275.44 569.50,275.04 569.75,274.09 570.00,272.43 570.25,270.46 570.50,269.13 570.60,269.00 570.75,269.30 571.00,270.84 571.25,272.81 571.50,274.34 571.75,275.16 572.00,275.48 572.25,275.57 572.50,275.60 572.75,275.60 573.00,275.60 573.25,275.60 573.50,275.60 573.75,275.60" fill="none" stroke="#2f78b8" stroke-width="0.95" stroke-linejoin="round"/>
<rect x="506.50" y="184.75" width="67.30" height="97.75" stroke="#1a1a1a" stroke-width="1" fill="none"/>
<line x1="528.15" y1="282.50" x2="528.15" y2="278.00" stroke="#1a1a1a" stroke-width="1"/>
<line x1="528.15" y1="184.75" x2="528.15" y2="189.25" stroke="#1a1a1a" stroke-width="1"/>
<line x1="548.90" y1="282.50" x2="548.90" y2="278.00" stroke="#1a1a1a" stroke-width="1"/>
<line x1="548.90" y1="184.75" x2="548.90" y2="189.25" stroke="#1a1a1a" stroke-width="1"/>
<line x1="569.65" y1="282.50" x2="569.65" y2="278.00" stroke="#1a1a1a" stroke-width="1"/>
<line x1="569.65" y1="184.75" x2="569.65" y2="189.25" stroke="#1a1a1a" stroke-width="1"/>
<line x1="506.50" y1="206.60" x2="509.50" y2="206.60" stroke="#1a1a1a" stroke-width="1"/>
<line x1="573.80" y1="206.60" x2="570.80" y2="206.60" stroke="#1a1a1a" stroke-width="1"/>
<line x1="506.50" y1="247.50" x2="509.50" y2="247.50" stroke="#1a1a1a" stroke-width="1"/>
<line x1="573.80" y1="247.50" x2="570.80" y2="247.50" stroke="#1a1a1a" stroke-width="1"/>
<line x1="506.50" y1="267.75" x2="509.50" y2="267.75" stroke="#1a1a1a" stroke-width="1"/>
<line x1="573.80" y1="267.75" x2="570.80" y2="267.75" stroke="#1a1a1a" stroke-width="1"/>
<text x="534.70" y="192.50" font-size="7.6" text-anchor="middle">AT</text>
<text x="537.90" y="222.30" font-size="7.3" text-anchor="middle">13</text>
<text x="546.40" y="223.80" font-size="7.3" text-anchor="middle">13</text>
<text x="566.20" y="217.80" font-size="7.6" text-anchor="middle">AT</text>
<text x="507.40" y="293.50" font-size="8.7" text-anchor="middle">0</text>
<text x="528.15" y="293.50" font-size="8.7" text-anchor="middle">5</text>
<text x="548.90" y="293.50" font-size="8.7" text-anchor="middle">10</text>
<text x="569.65" y="293.50" font-size="8.7" text-anchor="middle">15</text>
<text x="540.30" y="307.00" font-size="8.7" text-anchor="middle">Retention time</text>
<text x="540.30" y="317.20" font-size="8.7" text-anchor="middle">(min)</text>
<text x="503.00" y="234.60" font-size="8.7" text-anchor="middle" transform="rotate(-90 503.00 234.60)">Abs. at 360 nm</text>
<text x="587.00" y="175.70" font-size="14" text-anchor="start" font-weight="bold">j</text>
<rect x="621.50" y="184.30" width="63.00" height="97.70" stroke="#1a1a1a" stroke-width="1" fill="none"/>
<line x1="621.50" y1="257.30" x2="628.50" y2="257.30" stroke="#000" stroke-width="1"/>
<line x1="684.50" y1="257.30" x2="677.50" y2="257.30" stroke="#000" stroke-width="1"/>
<line x1="621.50" y1="227.40" x2="628.50" y2="227.40" stroke="#000" stroke-width="1"/>
<line x1="684.50" y1="227.40" x2="677.50" y2="227.40" stroke="#000" stroke-width="1"/>
<line x1="621.50" y1="197.50" x2="628.50" y2="197.50" stroke="#000" stroke-width="1"/>
<line x1="684.50" y1="197.50" x2="677.50" y2="197.50" stroke="#000" stroke-width="1"/>
<line x1="639.50" y1="184.30" x2="639.50" y2="191.30" stroke="#000" stroke-width="1"/>
<line x1="639.50" y1="282.00" x2="639.50" y2="275.00" stroke="#000" stroke-width="1"/>
<line x1="647.50" y1="184.30" x2="647.50" y2="188.30" stroke="#000" stroke-width="1"/>
<line x1="647.50" y1="282.00" x2="647.50" y2="278.00" stroke="#000" stroke-width="1"/>
<line x1="655.60" y1="184.30" x2="655.60" y2="191.30" stroke="#000" stroke-width="1"/>
<line x1="655.60" y1="282.00" x2="655.60" y2="275.00" stroke="#000" stroke-width="1"/>
<line x1="664.00" y1="184.30" x2="664.00" y2="188.30" stroke="#000" stroke-width="1"/>
<line x1="664.00" y1="282.00" x2="664.00" y2="278.00" stroke="#000" stroke-width="1"/>
<line x1="672.20" y1="184.30" x2="672.20" y2="191.30" stroke="#000" stroke-width="1"/>
<line x1="672.20" y1="282.00" x2="672.20" y2="275.00" stroke="#000" stroke-width="1"/>
<line x1="680.50" y1="184.30" x2="680.50" y2="188.30" stroke="#000" stroke-width="1"/>
<line x1="680.50" y1="282.00" x2="680.50" y2="278.00" stroke="#000" stroke-width="1"/>
<line x1="634.80" y1="182.00" x2="634.30" y2="187.50" stroke="#222" stroke-width="0.8"/>
<line x1="636.80" y1="182.00" x2="636.30" y2="187.50" stroke="#222" stroke-width="0.8"/>
<line x1="634.80" y1="279.30" x2="634.30" y2="284.80" stroke="#222" stroke-width="0.8"/>
<line x1="636.80" y1="279.30" x2="636.30" y2="284.80" stroke="#222" stroke-width="0.8"/>
<polyline points="639.30,273.00 640.20,266.00 641.20,258.00 642.40,251.00 644.00,245.00 646.00,240.00 648.50,235.50 651.50,231.00 655.00,226.50 658.00,222.00" fill="none" stroke="#222" stroke-width="0.8" stroke-linejoin="round" stroke-dasharray="3,2"/>
<line x1="658.00" y1="220.00" x2="666.00" y2="215.50" stroke="#222" stroke-width="0.8" stroke-dasharray="3,2"/>
<line x1="675.00" y1="213.50" x2="683.00" y2="211.50" stroke="#222" stroke-width="0.8"/>
<line x1="627.40" y1="211.50" x2="627.40" y2="226.80" stroke="#000" stroke-width="0.8"/>
<line x1="623.90" y1="211.50" x2="630.90" y2="211.50" stroke="#000" stroke-width="0.8"/>
<line x1="623.90" y1="226.80" x2="630.90" y2="226.80" stroke="#000" stroke-width="0.8"/>
<circle cx="627.40" cy="219.20" r="2.5" stroke="#111" stroke-width="0.8" fill="#fff"/>
<line x1="655.40" y1="209.60" x2="655.40" y2="222.10" stroke="#000" stroke-width="0.8"/>
<line x1="651.90" y1="209.60" x2="658.90" y2="209.60" stroke="#000" stroke-width="0.8"/>
<line x1="651.90" y1="222.10" x2="658.90" y2="222.10" stroke="#000" stroke-width="0.8"/>
<circle cx="655.40" cy="216.10" r="2.5" stroke="#111" stroke-width="0.8" fill="#fff"/>
<line x1="671.80" y1="210.60" x2="671.80" y2="220.40" stroke="#000" stroke-width="0.8"/>
<line x1="668.30" y1="210.60" x2="675.30" y2="210.60" stroke="#000" stroke-width="0.8"/>
<line x1="668.30" y1="220.40" x2="675.30" y2="220.40" stroke="#000" stroke-width="0.8"/>
<circle cx="671.80" cy="215.30" r="2.5" stroke="#111" stroke-width="0.8" fill="#fff"/>
<line x1="647.70" y1="236.00" x2="647.70" y2="242.90" stroke="#000" stroke-width="0.8"/>
<line x1="645.70" y1="236.00" x2="649.70" y2="236.00" stroke="#000" stroke-width="0.8"/>
<line x1="645.70" y1="242.90" x2="649.70" y2="242.90" stroke="#000" stroke-width="0.8"/>
<circle cx="647.70" cy="239.50" r="2.5" stroke="#111" stroke-width="0.8" fill="#fff"/>
<circle cx="643.40" cy="244.60" r="2.5" stroke="#000" stroke-width="0.8" fill="#fff"/>
<line x1="641.10" y1="254.00" x2="641.10" y2="261.80" stroke="#000" stroke-width="0.8"/>
<line x1="639.10" y1="254.00" x2="643.10" y2="254.00" stroke="#000" stroke-width="0.8"/>
<line x1="639.10" y1="261.80" x2="643.10" y2="261.80" stroke="#000" stroke-width="0.8"/>
<circle cx="641.10" cy="257.90" r="2.5" stroke="#111" stroke-width="0.8" fill="#fff"/>
<line x1="639.40" y1="265.30" x2="639.40" y2="273.90" stroke="#000" stroke-width="0.8"/>
<line x1="637.40" y1="265.30" x2="641.40" y2="265.30" stroke="#000" stroke-width="0.8"/>
<line x1="637.40" y1="273.90" x2="641.40" y2="273.90" stroke="#000" stroke-width="0.8"/>
<circle cx="639.40" cy="269.20" r="2.5" stroke="#111" stroke-width="0.8" fill="#fff"/>
<rect x="625.50" y="265.10" width="3.8" height="3.8" fill="none" stroke="#d04848" stroke-width="0.8"/>
<rect x="637.20" y="264.70" width="3.8" height="3.8" fill="none" stroke="#d04848" stroke-width="0.8"/>
<rect x="645.40" y="265.60" width="3.8" height="3.8" fill="none" stroke="#d04848" stroke-width="0.8"/>
<rect x="653.50" y="266.30" width="3.8" height="3.8" fill="none" stroke="#d04848" stroke-width="0.8"/>
<rect x="670.40" y="264.70" width="3.8" height="3.8" fill="none" stroke="#d04848" stroke-width="0.8"/>
<line x1="640.00" y1="273.00" x2="648.00" y2="270.00" stroke="#d04848" stroke-width="0.8"/>
<text x="617.30" y="260.40" font-size="8.7" text-anchor="end">50</text>
<text x="617.30" y="230.50" font-size="8.7" text-anchor="end">100</text>
<text x="617.30" y="200.60" font-size="8.7" text-anchor="end">150</text>
<text x="627.00" y="290.00" font-size="8.7" text-anchor="middle">bef.</text>
<text x="627.50" y="297.30" font-size="8.7" text-anchor="middle">irr.</text>
<text x="639.30" y="294.00" font-size="8.7" text-anchor="middle">0</text>
<text x="655.60" y="294.00" font-size="8.7" text-anchor="middle">4</text>
<text x="671.90" y="294.00" font-size="8.7" text-anchor="middle">8</text>
<text x="652.70" y="308.20" font-size="8.7" text-anchor="middle">Incubation time</text>
<text x="653.20" y="316.50" font-size="8.7" text-anchor="middle">(h)</text>
<text x="596.30" y="234.70" font-size="8.9" text-anchor="middle" transform="rotate(-90 596.30 234.70)">GTP<tspan>γ</tspan>S bound (fmol/min)</text>
</svg>
</body></html>
